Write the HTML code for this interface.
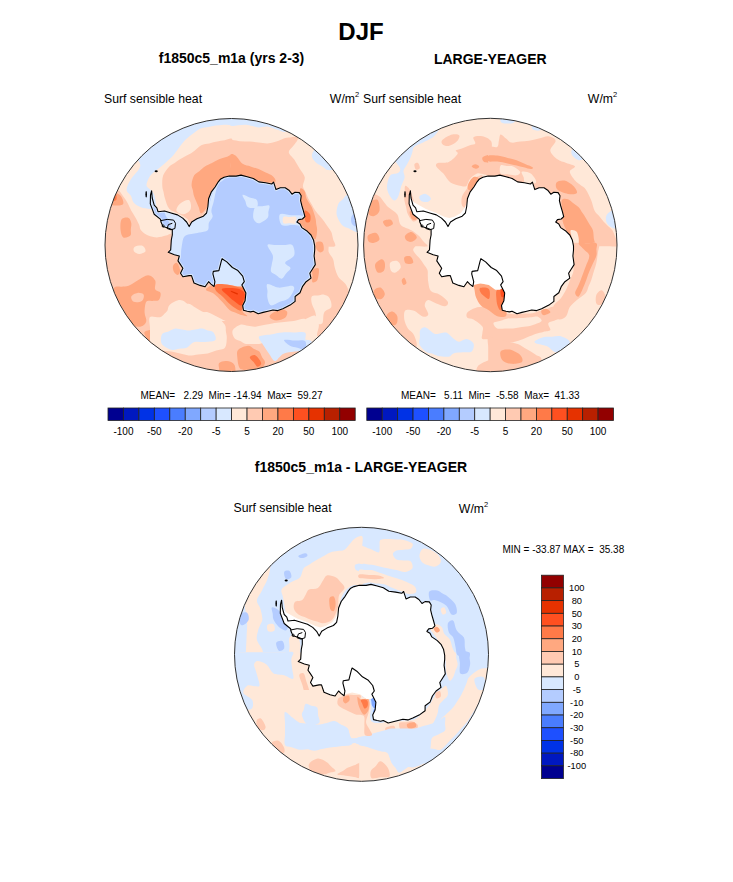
<!DOCTYPE html>
<html><head><meta charset="utf-8"><style>
html,body{margin:0;padding:0;background:#fff;}
svg{display:block;font-family:"Liberation Sans",sans-serif;}
text{fill:#000;white-space:pre;}
</style></head><body>
<svg width="733" height="882" viewBox="0 0 733 882" xml:space="preserve">
<text x="361" y="39.5" font-size="24" font-weight="bold" text-anchor="middle">DJF</text>
<text x="231.5" y="63" font-size="14" font-weight="bold" text-anchor="middle">f1850c5_m1a (yrs 2-3)</text>
<text x="490.3" y="63.5" font-size="14" font-weight="bold" text-anchor="middle">LARGE-YEAGER</text>
<text x="104" y="103" font-size="12.25">Surf sensible heat</text>
<text x="355" y="103" font-size="12.25" text-anchor="end">W/m</text><text x="355" y="97" font-size="7.5">2</text>
<text x="363" y="103" font-size="12.25">Surf sensible heat</text>
<text x="613" y="103" font-size="12.25" text-anchor="end">W/m</text><text x="613" y="97" font-size="7.5">2</text>
<clipPath id="c1"><circle cx="231.5" cy="245" r="126.5"/></clipPath>
<g clip-path="url(#c1)">
<rect x="103.0" y="116.5" width="257.0" height="257.0" fill="#FFE8D8"/>
<path d="M232.0,113.2 C230.1,111.5 224.5,113.2 220.8,113.2 C217.0,113.2 213.3,113.2 209.6,113.2 C205.8,113.2 202.1,113.2 198.3,113.2 C194.6,113.2 190.8,113.2 187.1,113.2 C183.4,113.2 179.6,113.2 175.9,113.2 C172.1,113.2 168.4,113.2 164.6,113.2 C160.9,113.2 157.2,113.2 153.4,113.2 C149.7,113.2 145.9,113.2 142.2,113.2 C138.4,113.2 134.7,113.2 131.0,113.2 C127.2,113.2 121.6,111.6 119.7,113.2 C117.9,114.8 119.7,119.5 119.7,122.7 C119.7,125.8 119.7,129.0 119.7,132.1 C119.7,135.3 118.4,138.7 119.7,141.6 C121.1,144.5 125.1,146.9 127.7,149.6 C130.4,152.2 133.7,155.2 135.7,157.6 C137.7,159.9 139.4,161.9 140.0,163.8 C140.5,165.6 140.5,166.5 139.2,168.7 C138.0,171.0 134.4,174.3 132.5,177.1 C130.6,179.8 128.7,182.9 127.7,185.2 C126.8,187.5 126.3,189.2 126.8,190.9 C127.4,192.7 129.8,193.8 130.9,195.7 C132.0,197.6 131.9,200.5 133.6,202.4 C135.2,204.4 138.1,206.1 140.8,207.2 C143.6,208.3 147.5,208.3 149.9,209.0 C152.3,209.7 154.0,210.8 155.2,211.7 C156.4,212.6 156.8,215.2 157.0,214.3 C157.1,213.4 156.4,209.0 156.1,206.3 C155.8,203.7 155.7,200.6 155.2,198.4 C154.8,196.1 154.3,194.5 153.4,193.0 C152.5,191.5 151.0,190.6 149.9,189.3 C148.7,188.0 146.7,187.2 146.5,185.2 C146.4,183.3 147.9,179.9 149.0,177.8 C150.1,175.7 151.5,174.4 153.1,172.8 C154.7,171.3 156.7,169.9 158.6,168.4 C160.4,166.9 162.4,165.4 164.1,164.0 C165.7,162.5 167.0,161.2 168.5,159.9 C170.0,158.5 171.3,157.7 172.9,155.8 C174.6,153.9 176.2,151.4 178.3,148.7 C180.3,146.0 182.7,142.5 185.4,139.8 C188.0,137.2 191.6,134.7 194.2,132.7 C196.9,130.8 199.0,129.3 201.3,128.3 C203.7,127.3 206.1,127.4 208.4,127.0 C210.8,126.5 213.0,126.0 215.5,125.6 C218.1,125.3 221.0,125.1 223.8,124.8 C226.5,124.5 230.6,125.8 232.0,123.9 C233.4,121.9 233.9,115.0 232.0,113.2Z" fill="#D8E8FF"/>
<path d="M232.0,138.9 C230.7,137.6 227.1,139.8 224.6,140.3 C222.2,140.7 219.8,141.1 217.3,141.6 C214.7,142.1 212.0,142.8 209.3,143.4 C206.6,144.0 204.1,143.7 201.3,145.2 C198.5,146.6 195.0,150.5 192.5,152.2 C189.9,154.0 188.3,154.6 186.2,155.8 C184.2,157.0 182.0,158.2 180.0,159.3 C178.1,160.5 176.5,161.7 174.7,162.9 C172.9,164.1 171.3,164.4 169.4,166.4 C167.5,168.5 164.4,172.1 163.2,175.3 C162.0,178.6 162.2,183.1 162.3,185.9 C162.4,188.8 163.2,190.1 163.6,192.2 C164.1,194.2 164.0,195.6 165.0,198.4 C165.9,201.2 167.2,206.5 169.4,209.0 C171.6,211.5 175.3,211.8 178.3,213.4 C181.2,215.1 185.1,216.8 187.1,218.8 C189.2,220.7 189.2,224.5 190.7,225.0 C192.2,225.4 194.2,222.6 196.0,221.4 C197.8,220.2 199.8,219.4 201.3,217.9 C202.8,216.4 203.7,214.3 204.9,212.6 C206.1,210.8 207.2,209.3 208.4,207.2 C209.6,205.2 210.8,202.5 212.0,200.1 C213.2,197.8 214.3,195.1 215.5,193.0 C216.7,191.0 217.9,189.5 219.1,187.7 C220.2,185.9 220.2,184.2 222.6,182.4 C225.0,180.6 231.5,179.6 233.3,177.1 C235.0,174.6 233.0,170.7 232.9,167.5 C232.8,164.4 232.7,161.2 232.6,158.0 C232.5,154.8 232.4,151.7 232.3,148.5 C232.2,145.3 233.3,140.3 232.0,138.9Z" fill="#FFCAB2"/>
<path d="M233.3,154.9 C232.1,153.6 228.5,156.4 226.2,157.1 C223.8,157.9 221.4,158.4 219.1,159.3 C216.7,160.3 214.3,161.7 212.0,162.9 C209.6,164.1 206.9,165.1 204.9,166.4 C202.8,167.8 201.3,169.4 199.6,170.9 C197.8,172.3 195.6,173.1 194.2,175.3 C192.9,177.5 191.8,181.7 191.6,184.2 C191.3,186.7 192.5,188.3 192.9,190.4 C193.3,192.5 193.3,193.8 194.2,196.6 C195.2,199.4 197.5,204.4 198.7,207.2 C199.8,210.0 199.7,213.7 201.3,213.4 C203.0,213.1 206.6,208.0 208.4,205.5 C210.2,202.9 210.8,200.7 212.0,198.4 C213.2,196.0 214.3,193.3 215.5,191.3 C216.7,189.2 217.9,187.7 219.1,185.9 C220.2,184.2 220.2,182.4 222.6,180.6 C225.0,178.9 231.5,177.9 233.3,175.3 C235.0,172.7 233.3,168.5 233.3,165.1 C233.3,161.7 234.4,156.2 233.3,154.9Z" fill="#FFA880"/>
<path d="M180.0,203.7 C182.1,201.9 187.1,199.2 188.9,200.1 C190.7,201.0 191.6,206.6 190.7,209.0 C189.8,211.4 186.0,214.0 183.6,214.3 C181.2,214.6 177.1,212.6 176.5,210.8 C175.9,209.0 178.0,205.5 180.0,203.7Z" fill="#FFE8D8"/>
<path d="M100.2,189.5 C101.7,187.6 106.1,189.7 109.1,189.8 C112.1,189.8 115.7,189.0 118.0,190.0 C120.2,191.0 121.1,193.5 122.8,195.7 C124.4,197.9 126.3,200.6 127.7,203.2 C129.1,205.7 129.9,208.3 131.3,210.8 C132.6,213.2 134.4,215.5 135.7,217.9 C137.0,220.2 138.4,222.9 139.2,225.0 C140.1,227.0 139.5,228.5 141.0,230.3 C142.5,232.1 145.5,234.4 148.1,235.6 C150.8,236.8 154.0,237.4 157.0,237.4 C159.9,237.4 163.5,236.2 165.9,235.6 C168.2,235.0 170.1,233.1 171.2,233.8 C172.2,234.6 171.8,238.0 172.1,240.0 C172.4,242.1 174.5,245.2 172.9,246.3 C171.4,247.3 166.0,246.3 162.6,246.3 C159.1,246.3 155.6,246.3 152.2,246.3 C148.7,246.3 145.2,246.3 141.8,246.3 C138.3,246.3 134.9,246.3 131.4,246.3 C127.9,246.3 124.5,246.3 121.0,246.3 C117.5,246.3 114.1,246.3 110.6,246.3 C107.2,246.3 102.0,248.1 100.2,246.3 C98.5,244.4 100.2,238.7 100.2,234.9 C100.2,231.1 100.2,227.3 100.2,223.5 C100.2,219.8 100.2,216.0 100.2,212.2 C100.2,208.4 100.2,204.6 100.2,200.8 C100.2,197.1 98.7,191.3 100.2,189.5Z" fill="#FFCAB2"/>
<path d="M121.5,219.6 C122.8,217.6 127.0,217.3 128.6,217.9 C130.2,218.5 130.9,221.3 131.3,223.2 C131.6,225.1 131.0,227.3 130.8,229.4 C130.7,231.5 131.6,234.3 130.4,235.6 C129.1,236.9 124.9,238.3 123.3,237.4 C121.7,236.5 120.9,233.2 120.6,230.3 C120.3,227.3 120.2,221.7 121.5,219.6Z" fill="#FFA880"/>
<path d="M109.1,191.3 C111.0,190.8 117.4,192.7 119.7,194.8 C122.1,196.9 123.9,201.9 123.3,203.7 C122.7,205.5 118.8,205.5 116.2,205.5 C113.5,205.5 108.7,205.0 107.3,203.7 C106.0,202.4 107.9,199.5 108.2,197.5 C108.5,195.4 107.2,191.7 109.1,191.3Z" fill="#FFA880"/>
<path d="M112.6,193.0 C113.2,192.2 115.6,193.6 116.2,194.8 C116.8,196.0 116.8,199.2 116.2,200.1 C115.6,201.0 113.2,201.3 112.6,200.1 C112.1,199.0 112.1,193.9 112.6,193.0Z" fill="#FF7A48"/>
<path d="M230.2,113.2 C232.0,112.2 237.2,113.2 240.6,113.2 C244.1,113.2 247.5,113.2 251.0,113.2 C254.5,113.2 257.9,113.2 261.4,113.2 C264.9,113.2 268.3,113.2 271.8,113.2 C275.2,113.2 278.7,113.2 282.2,113.2 C285.6,113.2 289.1,113.2 292.6,113.2 C296.0,113.2 302.2,112.2 302.9,113.2 C303.7,114.3 299.0,117.4 297.0,119.4 C295.1,121.5 293.1,123.6 291.1,125.6 C289.2,127.7 287.4,131.1 285.2,131.8 C283.0,132.6 281.1,131.0 278.1,130.1 C275.2,129.2 270.7,127.0 267.5,126.5 C264.2,126.1 261.1,127.5 258.6,127.4 C256.1,127.3 254.5,126.5 252.4,126.1 C250.3,125.6 248.6,124.9 246.2,124.8 C243.8,124.6 240.9,125.1 238.2,125.2 C235.5,125.3 231.6,126.6 230.2,125.6 C228.9,124.7 230.2,121.5 230.2,119.4 C230.2,117.4 228.5,114.3 230.2,113.2Z" fill="#D8E8FF"/>
<path d="M230.2,140.7 C231.9,138.8 236.7,141.0 240.0,141.2 C243.2,141.3 246.6,141.4 249.7,141.6 C252.8,141.8 255.6,142.2 258.6,142.5 C261.6,142.8 264.5,143.5 267.5,143.4 C270.4,143.2 273.4,142.5 276.3,141.6 C279.3,140.7 282.7,138.8 285.2,138.1 C287.7,137.3 289.3,137.5 291.4,137.2 C293.5,136.9 296.6,135.8 297.6,136.3 C298.7,136.7 298.4,138.2 297.6,139.8 C296.9,141.5 294.7,144.0 293.2,146.0 C291.7,148.1 288.6,150.0 288.8,152.2 C288.9,154.5 292.3,156.7 294.1,159.3 C295.9,162.0 297.6,165.3 299.4,168.2 C301.2,171.2 304.1,174.1 304.7,177.1 C305.3,180.0 302.8,183.4 302.9,185.9 C303.1,188.5 304.7,190.1 305.6,192.2 C306.5,194.2 307.2,196.3 308.3,198.4 C309.3,200.4 310.6,202.5 311.8,204.6 C313.0,206.6 314.0,208.9 315.4,210.8 C316.7,212.7 318.3,214.3 319.8,216.1 C321.3,217.9 322.9,219.6 324.2,221.4 C325.6,223.2 326.6,225.0 327.8,226.7 C329.0,228.5 330.4,230.0 331.3,232.1 C332.2,234.1 332.5,236.8 333.1,239.2 C333.7,241.5 336.5,245.1 334.9,246.3 C333.2,247.4 327.1,246.3 323.2,246.3 C319.4,246.3 315.5,246.3 311.6,246.3 C307.7,246.3 303.9,246.3 300.0,246.3 C296.1,246.3 292.2,246.3 288.4,246.3 C284.5,246.3 280.6,246.3 276.7,246.3 C272.9,246.3 269.0,246.3 265.1,246.3 C261.2,246.3 257.4,246.3 253.5,246.3 C249.6,246.3 245.7,246.3 241.9,246.3 C238.0,246.3 232.2,248.2 230.2,246.3 C228.3,244.3 230.2,238.4 230.2,234.5 C230.2,230.6 230.2,226.7 230.2,222.8 C230.2,218.9 230.2,215.0 230.2,211.1 C230.2,207.2 230.2,203.3 230.2,199.3 C230.2,195.4 230.2,191.5 230.2,187.6 C230.2,183.7 230.2,179.8 230.2,175.9 C230.2,172.0 230.2,168.1 230.2,164.2 C230.2,160.3 230.2,156.4 230.2,152.4 C230.2,148.5 228.6,142.6 230.2,140.7Z" fill="#FFCAB2"/>
<path d="M315.4,148.7 C313.3,151.1 311.8,153.6 311.8,155.8 C311.8,158.0 313.7,160.3 315.4,162.0 C317.0,163.7 319.5,164.7 321.6,166.0 C323.6,167.3 325.6,169.6 327.8,170.0 C330.0,170.4 334.3,170.0 334.9,168.2 C335.5,166.4 332.5,162.3 331.3,159.3 C330.1,156.4 329.0,153.4 327.8,150.5 C326.6,147.5 326.3,141.9 324.2,141.6 C322.2,141.3 317.4,146.3 315.4,148.7Z" fill="#D8E8FF"/>
<path d="M347.3,194.8 C345.2,195.7 344.3,197.8 342.9,199.2 C341.4,200.7 339.5,201.2 338.4,203.7 C337.4,206.2 336.1,210.8 336.6,214.3 C337.2,217.9 339.9,222.6 342.0,225.0 C344.0,227.3 346.7,227.3 349.1,228.5 C351.4,229.7 353.8,231.5 356.2,232.1 C358.5,232.7 362.1,233.7 363.3,232.1 C364.4,230.4 363.3,225.6 363.3,222.3 C363.3,219.1 363.3,215.8 363.3,212.6 C363.3,209.3 363.3,206.0 363.3,202.8 C363.3,199.5 364.6,194.5 363.3,193.0 C361.9,191.6 357.9,193.6 355.3,193.9 C352.6,194.2 349.4,193.9 347.3,194.8Z" fill="#D8E8FF"/>
<path d="M354.4,216.1 C354.7,214.3 357.0,212.8 357.9,214.3 C358.8,215.8 360.0,223.2 359.7,225.0 C359.4,226.7 357.0,226.4 356.2,225.0 C355.3,223.5 354.1,217.9 354.4,216.1Z" fill="#B4CCFF"/>
<path d="M230.2,154.9 C231.1,153.2 233.5,154.0 235.5,155.4 C237.6,156.9 240.1,161.9 242.6,163.8 C245.2,165.6 248.0,165.5 250.6,166.4 C253.3,167.3 256.1,168.1 258.6,169.1 C261.1,170.1 263.3,171.5 265.7,172.6 C268.1,173.8 271.2,174.7 272.8,176.2 C274.4,177.7 276.3,180.5 275.5,181.5 C274.6,182.5 270.3,182.5 267.5,182.4 C264.7,182.3 261.6,181.2 258.6,180.6 C255.6,180.0 252.2,179.4 249.7,178.9 C247.2,178.3 245.6,177.7 243.5,177.1 C241.5,176.5 239.5,175.5 237.3,175.3 C235.1,175.2 231.4,177.8 230.2,176.2 C229.0,174.6 230.2,169.1 230.2,165.5 C230.2,162.0 229.3,156.6 230.2,154.9Z" fill="#FFA880"/>
<path d="M300.3,188.6 C301.1,187.2 303.7,189.6 304.7,191.3 C305.8,192.9 305.3,195.7 306.5,198.4 C307.7,201.0 310.3,204.0 311.8,207.2 C313.3,210.5 314.6,215.1 315.4,217.9 C316.1,220.7 316.0,222.0 316.2,224.1 C316.5,226.2 317.3,227.8 317.1,230.3 C317.0,232.8 316.4,238.4 315.4,239.2 C314.3,239.9 312.4,236.2 310.9,234.7 C309.5,233.2 308.4,232.5 306.5,230.3 C304.6,228.1 300.5,224.7 299.4,221.4 C298.3,218.1 299.6,214.1 299.7,210.5 C299.8,206.8 299.9,203.2 300.0,199.5 C300.1,195.9 299.5,190.0 300.3,188.6Z" fill="#FFA880"/>
<path d="M304.7,210.8 C305.5,209.6 309.2,212.6 310.0,214.3 C310.9,216.1 310.8,220.2 310.0,221.4 C309.3,222.6 306.5,223.2 305.6,221.4 C304.7,219.6 304.0,212.0 304.7,210.8Z" fill="#FF7A48"/>
<path d="M100.2,243.2 C102.1,241.4 107.6,243.2 111.3,243.2 C115.0,243.2 118.7,243.2 122.4,243.2 C126.1,243.2 129.8,243.2 133.5,243.2 C137.2,243.2 140.9,243.2 144.6,243.2 C148.3,243.2 152.0,243.2 155.7,243.2 C159.3,243.2 163.0,243.2 166.7,243.2 C170.4,243.2 174.1,243.2 177.8,243.2 C181.5,243.2 185.2,243.2 188.9,243.2 C192.6,243.2 196.3,243.2 200.0,243.2 C203.7,243.2 207.4,243.2 211.1,243.2 C214.8,243.2 218.5,243.2 222.2,243.2 C225.9,243.2 231.4,241.4 233.3,243.2 C235.1,245.1 233.3,250.6 233.3,254.3 C233.3,258.0 233.3,261.7 233.3,265.4 C233.3,269.1 233.3,272.8 233.3,276.5 C233.3,280.2 233.3,283.9 233.3,287.6 C233.3,291.3 233.3,295.0 233.3,298.7 C233.3,302.3 233.3,306.0 233.3,309.7 C233.3,313.4 233.3,317.1 233.3,320.8 C233.3,324.5 233.3,328.2 233.3,331.9 C233.3,335.6 233.3,339.3 233.3,343.0 C233.3,346.7 233.3,350.4 233.3,354.1 C233.3,357.8 233.3,361.5 233.3,365.2 C233.3,368.9 235.1,374.4 233.3,376.3 C231.4,378.1 225.9,376.3 222.2,376.3 C218.5,376.3 214.8,376.3 211.1,376.3 C207.4,376.3 203.7,376.3 200.0,376.3 C196.3,376.3 192.6,376.3 188.9,376.3 C185.2,376.3 181.5,376.3 177.8,376.3 C174.1,376.3 170.4,376.3 166.7,376.3 C163.0,376.3 159.3,376.3 155.7,376.3 C152.0,376.3 148.3,376.3 144.6,376.3 C140.9,376.3 137.2,376.3 133.5,376.3 C129.8,376.3 126.1,376.3 122.4,376.3 C118.7,376.3 115.0,376.3 111.3,376.3 C107.6,376.3 102.1,378.1 100.2,376.3 C98.4,374.4 100.2,368.9 100.2,365.2 C100.2,361.5 100.2,357.8 100.2,354.1 C100.2,350.4 100.2,346.7 100.2,343.0 C100.2,339.3 100.2,335.6 100.2,331.9 C100.2,328.2 100.2,324.5 100.2,320.8 C100.2,317.1 100.2,313.4 100.2,309.7 C100.2,306.0 100.2,302.3 100.2,298.7 C100.2,295.0 100.2,291.3 100.2,287.6 C100.2,283.9 100.2,280.2 100.2,276.5 C100.2,272.8 100.2,269.1 100.2,265.4 C100.2,261.7 100.2,258.0 100.2,254.3 C100.2,250.6 98.4,245.1 100.2,243.2Z" fill="#FFCAB2"/>
<path d="M134.8,246.8 C136.3,245.9 141.0,245.1 142.8,245.9 C144.6,246.6 146.0,249.9 145.5,251.2 C144.9,252.5 141.2,253.9 139.2,253.9 C137.3,253.9 134.7,252.4 133.9,251.2 C133.2,250.0 133.3,247.7 134.8,246.8Z" fill="#FFE8D8"/>
<path d="M114.4,287.6 C115.9,285.6 119.1,287.0 121.5,286.7 C123.9,286.4 125.9,286.8 128.6,285.8 C131.3,284.8 134.2,282.2 137.5,280.5 C140.7,278.7 145.2,275.2 148.1,275.2 C151.1,275.2 154.0,278.1 155.2,280.5 C156.4,282.8 154.3,287.3 155.2,289.3 C156.1,291.4 159.9,291.1 160.5,292.9 C161.1,294.7 160.1,298.7 158.8,300.0 C157.4,301.3 154.6,300.6 152.5,300.9 C150.5,301.2 147.7,299.8 146.3,301.8 C145.0,303.7 144.6,309.1 144.6,312.4 C144.6,315.7 146.9,318.9 146.3,321.3 C145.8,323.6 143.7,326.0 141.0,326.6 C138.4,327.2 132.7,326.4 130.4,324.8 C128.0,323.2 128.0,319.5 126.8,316.8 C125.6,314.2 124.8,311.1 123.3,308.9 C121.8,306.6 119.7,305.3 118.0,303.5 C116.2,301.8 113.2,300.9 112.6,298.2 C112.1,295.5 112.9,289.5 114.4,287.6Z" fill="#FFA880"/>
<path d="M131.3,296.4 C131.9,295.0 135.4,293.2 137.5,292.9 C139.5,292.6 142.9,293.3 143.7,294.7 C144.4,296.0 143.5,299.7 141.9,300.9 C140.3,302.1 135.7,302.5 133.9,301.8 C132.2,301.0 130.7,297.9 131.3,296.4Z" fill="#FFCAB2"/>
<path d="M144.6,331.9 C145.8,330.6 151.8,329.2 153.4,330.1 C155.1,331.0 154.0,334.9 154.3,337.2 C154.6,339.6 156.2,343.1 155.2,344.3 C154.2,345.5 149.6,345.4 148.1,344.3 C146.6,343.3 146.9,340.2 146.3,338.1 C145.8,336.0 143.4,333.2 144.6,331.9Z" fill="#FFA880"/>
<path d="M155.2,321.3 C157.3,319.2 163.5,318.6 165.9,315.9 C168.2,313.3 167.0,308.0 169.4,305.3 C171.8,302.6 176.8,300.0 180.0,300.0 C183.3,300.0 186.5,303.2 188.9,305.3 C191.3,307.4 192.2,311.2 194.2,312.4 C196.3,313.6 199.0,312.4 201.3,312.4 C203.7,312.4 205.5,311.5 208.4,312.4 C211.4,313.3 216.1,316.2 219.1,317.7 C222.0,319.2 223.8,320.1 226.2,321.3 C228.5,322.5 232.1,322.4 233.3,324.8 C234.4,327.3 233.3,332.2 233.3,335.9 C233.3,339.6 234.6,344.8 233.3,347.0 C231.9,349.2 227.9,348.5 225.3,349.2 C222.6,349.9 219.9,350.9 217.3,351.4 C214.6,351.9 212.0,352.0 209.3,352.3 C206.6,352.6 203.8,353.2 201.3,353.2 C198.8,353.2 196.6,352.6 194.2,352.3 C191.9,352.0 189.5,351.3 187.1,351.4 C184.8,351.6 182.4,352.6 180.0,353.2 C177.7,353.8 175.3,355.1 172.9,355.0 C170.6,354.8 168.2,353.2 165.9,352.3 C163.5,351.4 160.2,351.1 158.8,349.6 C157.3,348.2 157.6,345.5 157.0,343.4 C156.4,341.4 155.8,339.7 155.2,337.2 C154.6,334.7 153.4,331.0 153.4,328.4 C153.4,325.7 153.1,323.3 155.2,321.3Z" fill="#FFE8D8"/>
<path d="M162.3,335.5 C163.8,332.8 170.1,331.2 172.9,330.1 C175.8,329.1 177.1,329.5 179.2,329.2 C181.2,329.0 182.6,328.2 185.4,328.4 C188.2,328.5 193.2,330.0 196.0,330.1 C198.8,330.3 200.1,329.5 202.2,329.2 C204.3,329.0 206.2,327.6 208.4,328.4 C210.6,329.1 214.6,331.3 215.5,333.7 C216.4,336.0 215.1,341.1 213.7,342.6 C212.4,344.0 209.6,342.6 207.5,342.6 C205.5,342.6 204.1,342.8 201.3,342.6 C198.5,342.3 193.3,339.9 190.7,340.8 C188.0,341.7 187.3,346.5 185.4,347.9 C183.4,349.2 181.2,348.5 179.2,348.8 C177.1,349.1 175.5,350.1 172.9,349.6 C170.4,349.2 165.9,348.5 164.1,346.1 C162.3,343.7 160.8,338.1 162.3,335.5Z" fill="#D8E8FF"/>
<path d="M217.3,362.1 C218.3,360.0 222.6,360.9 225.3,360.3 C227.9,359.7 231.9,357.6 233.3,358.5 C234.6,359.4 233.3,363.2 233.3,365.6 C233.3,368.0 234.4,371.5 233.3,372.7 C232.1,373.9 228.5,372.7 226.2,372.7 C223.8,372.7 220.5,374.5 219.1,372.7 C217.6,370.9 216.3,364.1 217.3,362.1Z" fill="#FFA880"/>
<path d="M230.2,243.2 C232.0,241.5 237.5,243.2 241.1,243.2 C244.7,243.2 248.3,243.2 251.9,243.2 C255.5,243.2 259.1,243.2 262.7,243.2 C266.4,243.2 270.0,243.2 273.6,243.2 C277.2,243.2 280.8,243.2 284.4,243.2 C288.0,243.2 291.6,243.2 295.3,243.2 C298.9,243.2 302.5,243.2 306.1,243.2 C309.7,243.2 313.3,243.2 316.9,243.2 C320.6,243.2 325.8,241.7 327.8,243.2 C329.7,244.7 327.8,249.4 328.7,252.1 C329.6,254.8 332.1,256.5 333.1,259.2 C334.1,261.8 334.0,265.1 334.9,268.1 C335.8,271.0 336.6,274.3 338.4,276.9 C340.2,279.6 343.7,281.4 345.5,284.0 C347.3,286.7 348.5,289.6 349.1,292.9 C349.7,296.1 349.7,300.3 349.1,303.5 C348.5,306.8 347.3,309.7 345.5,312.4 C343.7,315.1 340.8,317.1 338.4,319.5 C336.1,321.9 333.2,324.5 331.3,326.6 C329.4,328.7 328.4,330.1 326.9,331.9 C325.4,333.7 324.1,336.6 322.5,337.2 C320.8,337.8 317.7,337.5 317.1,335.5 C316.5,333.4 319.2,328.1 318.9,324.8 C318.6,321.6 317.1,317.1 315.4,315.9 C313.6,314.8 311.2,316.5 308.3,317.7 C305.3,318.9 300.4,322.0 297.6,323.0 C294.8,324.1 293.5,323.6 291.4,323.9 C289.3,324.2 287.4,324.4 285.2,324.8 C283.0,325.3 280.5,326.0 278.1,326.6 C275.8,327.2 273.4,328.3 271.0,328.4 C268.7,328.4 266.3,327.5 263.9,327.0 C261.6,326.6 259.2,325.9 256.8,325.7 C254.5,325.6 252.1,326.0 249.7,326.1 C247.4,326.3 244.9,326.4 242.6,326.6 C240.4,326.8 238.5,327.2 236.4,327.5 C234.4,327.8 231.3,330.0 230.2,328.4 C229.2,326.7 230.2,321.3 230.2,317.7 C230.2,314.2 230.2,310.6 230.2,307.1 C230.2,303.5 230.2,300.0 230.2,296.4 C230.2,292.9 230.2,289.3 230.2,285.8 C230.2,282.2 230.2,278.7 230.2,275.2 C230.2,271.6 230.2,268.1 230.2,264.5 C230.2,261.0 230.2,257.4 230.2,253.9 C230.2,250.3 228.4,245.0 230.2,243.2Z" fill="#FFCAB2"/>
<path d="M311.8,296.4 C312.9,295.1 316.0,295.8 318.0,295.5 C320.1,295.3 322.3,294.2 324.2,294.7 C326.2,295.1 328.4,296.1 329.6,298.2 C330.7,300.3 332.2,304.7 331.3,307.1 C330.4,309.4 325.7,309.7 324.2,312.4 C322.8,315.1 323.6,321.3 322.5,323.0 C321.3,324.8 318.3,324.8 317.1,323.0 C316.0,321.3 316.2,315.7 315.4,312.4 C314.5,309.1 312.4,306.2 311.8,303.5 C311.2,300.9 310.8,297.8 311.8,296.4Z" fill="#FFE8D8"/>
<path d="M230.2,340.8 C231.7,339.4 236.4,343.6 239.1,344.3 C241.8,345.1 243.8,344.9 246.2,345.2 C248.6,345.5 250.3,345.1 253.3,346.1 C256.2,347.1 261.6,349.6 263.9,351.4 C266.3,353.2 266.3,355.0 267.5,356.7 C268.7,358.5 269.5,361.8 271.0,362.1 C272.5,362.4 274.6,359.7 276.3,358.5 C278.1,357.3 279.6,356.2 281.7,355.0 C283.7,353.8 286.7,351.1 288.8,351.4 C290.8,351.7 294.2,354.2 294.1,356.7 C293.9,359.3 289.9,363.2 287.9,366.5 C285.8,369.7 284.4,374.6 281.7,376.3 C278.9,377.9 274.8,376.3 271.4,376.3 C267.9,376.3 264.5,376.3 261.1,376.3 C257.7,376.3 254.2,376.3 250.8,376.3 C247.4,376.3 243.9,376.3 240.5,376.3 C237.1,376.3 231.9,378.2 230.2,376.3 C228.5,374.3 230.2,368.4 230.2,364.4 C230.2,360.5 230.2,356.5 230.2,352.6 C230.2,348.7 228.7,342.2 230.2,340.8Z" fill="#FFCAB2"/>
<path d="M237.3,347.9 C238.7,346.2 242.6,348.5 245.3,348.8 C248.0,349.1 251.1,348.9 253.3,349.6 C255.5,350.4 256.8,352.0 258.6,353.2 C260.4,354.4 262.7,355.1 263.9,356.7 C265.1,358.4 265.1,360.9 265.7,362.9 C266.3,365.0 268.7,367.8 267.5,369.2 C266.3,370.5 261.6,370.3 258.6,370.9 C255.6,371.5 252.2,372.7 249.7,372.7 C247.2,372.7 245.6,371.5 243.5,370.9 C241.5,370.3 238.4,371.2 237.3,369.2 C236.3,367.1 237.3,362.1 237.3,358.5 C237.3,355.0 236.0,349.5 237.3,347.9Z" fill="#FFA880"/>
<path d="M249.7,358.5 C250.6,357.0 254.9,355.9 256.8,356.7 C258.8,357.6 261.0,362.1 261.3,363.8 C261.6,365.6 260.2,367.1 258.6,367.4 C257.0,367.7 253.0,367.1 251.5,365.6 C250.0,364.1 248.8,360.0 249.7,358.5Z" fill="#FF7A48"/>
<path d="M260.4,337.2 C260.5,335.9 264.5,336.6 266.6,336.3 C268.7,336.0 270.7,335.8 272.8,335.5 C274.9,335.2 276.9,334.9 279.0,334.6 C281.1,334.3 283.0,333.5 285.2,333.7 C287.4,333.8 289.9,334.9 292.3,335.5 C294.7,336.0 297.2,336.6 299.4,337.2 C301.6,337.9 303.5,338.7 305.6,339.4 C307.7,340.2 311.7,339.7 311.8,341.7 C312.0,343.7 308.4,349.6 306.5,351.4 C304.6,353.2 302.4,352.0 300.3,352.3 C298.2,352.6 296.9,352.2 294.1,353.2 C291.3,354.2 287.0,357.0 283.4,358.5 C279.9,360.0 275.5,362.7 272.8,362.1 C270.1,361.5 268.7,357.9 267.5,355.0 C266.3,352.0 266.9,347.3 265.7,344.3 C264.5,341.4 260.2,338.6 260.4,337.2Z" fill="#D8E8FF"/>
<path d="M283.4,340.8 C285.2,339.7 291.3,339.5 294.1,339.9 C296.9,340.3 298.2,342.0 300.3,343.0 C302.4,344.0 306.1,344.7 306.5,346.1 C306.9,347.5 304.6,350.7 302.9,351.4 C301.3,352.2 298.8,350.8 296.7,350.5 C294.7,350.2 292.7,350.4 290.5,349.6 C288.3,348.9 284.6,347.6 283.4,346.1 C282.3,344.6 281.7,341.8 283.4,340.8Z" fill="#B4CCFF"/>
<path d="M271.0,314.2 C272.6,312.8 277.2,310.2 279.9,309.7 C282.5,309.3 286.1,310.2 287.0,311.5 C287.9,312.8 287.0,316.2 285.2,317.7 C283.4,319.2 278.9,320.4 276.3,320.4 C273.8,320.4 271.0,318.8 270.1,317.7 C269.2,316.7 269.4,315.5 271.0,314.2Z" fill="#FFA880"/>
<path d="M212.0,262.0 C213.5,259.6 218.7,256.3 221.0,256.0 C223.3,255.7 224.0,258.3 226.0,260.0 C228.0,261.7 230.8,264.3 233.0,266.0 C235.2,267.7 237.2,268.3 239.0,270.0 C240.8,271.7 243.1,274.0 244.0,276.0 C244.9,278.0 244.3,280.0 244.5,282.0 C244.7,284.0 246.2,287.3 245.0,288.0 C243.8,288.7 240.0,287.0 237.5,286.4 C235.0,285.9 232.8,285.0 230.0,284.9 C227.2,284.8 224.0,285.6 221.0,285.9 C218.0,286.3 213.5,288.2 212.0,287.0 C210.5,285.8 212.0,281.4 212.0,278.7 C212.0,275.9 212.0,273.1 212.0,270.3 C212.0,267.6 210.5,264.4 212.0,262.0Z" fill="#D8E8FF"/>
<path d="M210.0,286.0 C211.4,285.2 212.5,285.5 214.7,285.5 C216.8,285.5 220.2,285.7 222.9,285.8 C225.6,285.9 228.4,285.9 231.1,286.0 C233.8,286.1 237.1,286.1 239.3,286.3 C241.5,286.5 242.9,285.8 244.1,287.1 C245.3,288.5 246.5,292.0 246.5,294.4 C246.5,296.8 244.8,298.8 244.1,301.6 C243.4,304.4 242.0,308.6 242.5,311.0 C243.0,313.4 247.4,315.2 247.3,315.9 C247.2,316.6 243.6,315.6 241.7,315.1 C239.8,314.6 237.7,313.5 235.8,312.7 C233.8,311.9 232.1,312.2 229.8,310.3 C227.5,308.4 224.6,304.4 221.9,301.6 C219.2,298.8 216.6,295.6 213.9,293.7 C211.2,291.8 206.7,291.3 206.0,290.0 C205.3,288.7 208.6,286.8 210.0,286.0Z" fill="#FFA880"/>
<path d="M214.7,286.5 C215.0,285.3 215.4,284.4 217.9,284.1 C220.4,283.8 226.2,284.4 229.8,284.9 C233.4,285.4 236.9,286.8 239.3,287.3 C241.7,287.8 242.9,286.9 244.1,288.1 C245.3,289.3 246.5,292.1 246.5,294.4 C246.5,296.6 244.9,299.0 244.1,301.6 C243.3,304.2 243.0,309.1 241.7,310.3 C240.4,311.5 238.2,309.8 236.2,308.7 C234.2,307.6 232.2,306.1 229.8,304.0 C227.4,301.9 224.2,298.1 221.9,296.0 C219.7,293.9 217.5,292.9 216.3,291.3 C215.1,289.7 214.4,287.7 214.7,286.5Z" fill="#FF7A48"/>
<path d="M221.9,288.9 C222.8,287.8 229.0,288.0 232.2,288.1 C235.4,288.2 238.8,288.6 240.9,289.7 C243.0,290.8 244.5,292.5 244.9,294.4 C245.3,296.2 244.0,298.9 243.3,300.8 C242.6,302.7 242.5,305.6 240.9,305.6 C239.3,305.6 236.2,302.7 233.8,300.8 C231.4,298.9 228.6,296.4 226.6,294.4 C224.6,292.4 221.0,289.9 221.9,288.9Z" fill="#FF5020"/>
<path d="M231.4,290.9 C232.4,291.1 236.8,292.7 237.7,293.3 C238.6,293.9 238.1,294.6 237.0,294.4 C235.9,294.2 232.3,292.7 231.4,292.1 C230.5,291.5 230.4,290.7 231.4,290.9Z" fill="#E63200"/>
<path d="M173.0,266.0 C173.5,264.5 175.8,262.3 177.0,263.0 C178.2,263.7 179.8,268.0 180.0,270.0 C180.2,272.0 179.0,274.7 178.0,275.0 C177.0,275.3 174.8,273.5 174.0,272.0 C173.2,270.5 172.5,267.5 173.0,266.0Z" fill="#FFA880"/>
<path d="M316.2,242.4 C317.2,241.4 321.1,241.2 322.4,242.4 C323.6,243.7 324.1,248.2 323.7,249.9 C323.3,251.6 321.1,252.6 319.9,252.4 C318.6,252.2 316.8,250.3 316.2,248.6 C315.6,246.9 315.2,243.4 316.2,242.4Z" fill="#FFA880"/>
<path d="M312.5,269.9 C313.5,268.6 317.9,267.0 318.7,268.6 C319.5,270.2 318.5,277.5 317.5,279.8 C316.5,282.1 313.3,282.9 312.5,282.3 C311.7,281.7 312.5,278.2 312.5,276.1 C312.5,274.0 311.5,271.1 312.5,269.9Z" fill="#FFA880"/>
<path d="M351.1,218.0 C351.4,216.3 352.9,213.7 354.0,214.0 C355.1,214.3 357.6,218.0 358.0,220.0 C358.4,222.0 357.1,225.5 356.1,226.2 C355.1,226.9 352.8,225.4 352.0,224.0 C351.2,222.6 350.8,219.7 351.1,218.0Z" fill="#B4CCFF"/>
<path d="M150.0,321.0 L300.0,321.0 L300.0,380.0 L150.0,380.0Z" fill="#FFCAB2"/>
<path d="M160.0,317.2 C162.6,316.4 163.8,314.0 165.8,312.4 C167.7,310.8 169.1,308.7 171.5,307.6 C173.9,306.5 177.2,306.3 180.1,305.7 C182.9,305.1 186.1,303.5 188.6,303.8 C191.1,304.1 193.1,306.4 195.3,307.6 C197.5,308.9 199.6,310.4 202.0,311.5 C204.4,312.6 207.1,313.4 209.7,314.4 C212.2,315.3 214.8,315.5 217.3,317.2 C219.8,318.9 223.5,322.4 224.9,324.8 C226.3,327.2 225.5,329.3 225.9,331.5 C226.2,333.7 227.0,335.5 226.8,338.2 C226.6,340.9 226.7,345.6 224.9,347.7 C223.2,349.8 219.2,349.6 216.3,350.6 C213.4,351.6 210.7,352.9 207.7,353.5 C204.7,354.1 201.3,354.1 198.1,354.4 C195.0,354.8 191.6,355.6 188.6,355.4 C185.6,355.2 182.9,354.1 180.1,353.5 C177.2,352.9 174.7,352.1 171.5,351.6 C168.3,351.1 164.3,351.0 160.8,350.6 C157.2,350.3 151.8,351.7 150.0,349.7 C148.2,347.7 150.0,342.4 150.0,338.8 C150.0,335.2 150.0,331.5 150.0,327.9 C150.0,324.3 148.3,318.8 150.0,317.0 C151.7,315.2 157.4,318.0 160.0,317.2Z" fill="#FFE8D8"/>
<path d="M161.9,334.4 C163.0,332.3 166.4,332.5 168.6,331.5 C170.8,330.5 173.1,328.9 175.3,328.6 C177.5,328.3 179.7,329.3 181.9,329.6 C184.2,329.9 186.4,330.6 188.6,330.6 C190.8,330.6 193.1,329.9 195.3,329.6 C197.5,329.3 199.9,328.4 202.0,328.6 C204.1,328.8 205.8,329.9 207.8,330.6 C209.7,331.2 212.2,330.9 213.5,332.5 C214.8,334.1 216.7,338.5 215.4,340.1 C214.1,341.7 209.3,341.7 205.8,342.0 C202.3,342.3 197.6,341.1 194.4,342.0 C191.2,342.9 189.2,346.6 186.7,347.7 C184.1,348.8 181.6,348.4 179.1,348.7 C176.6,349.0 174.4,350.5 171.5,349.7 C168.6,348.9 163.5,346.4 161.9,343.9 C160.3,341.3 160.8,336.5 161.9,334.4Z" fill="#D8E8FF"/>
<path d="M232.6,330.6 C233.5,328.4 237.7,325.6 240.2,324.8 C242.7,324.0 245.3,325.4 247.8,325.8 C250.4,326.1 252.6,326.9 255.5,326.7 C258.4,326.5 261.9,325.4 265.1,324.8 C268.2,324.2 271.4,323.4 274.6,322.9 C277.8,322.4 281.0,322.3 284.1,321.9 C287.3,321.6 290.2,321.5 293.7,321.0 C297.2,320.5 303.1,317.8 305.0,319.1 C306.9,320.4 305.0,325.5 305.0,328.6 C305.0,331.8 306.7,336.6 305.0,338.2 C303.3,339.8 298.2,338.2 294.9,338.2 C291.5,338.2 288.1,338.2 284.7,338.2 C281.4,338.2 277.6,337.7 274.6,338.2 C271.6,338.7 269.5,340.1 267.0,341.0 C264.4,342.0 261.7,343.4 259.3,343.9 C256.9,344.4 254.8,343.9 252.6,343.9 C250.4,343.9 248.0,344.4 245.9,343.9 C243.8,343.4 242.1,342.0 240.2,341.0 C238.3,340.1 235.8,339.9 234.5,338.2 C233.2,336.5 231.7,332.8 232.6,330.6Z" fill="#FFE8D8"/>
<path d="M259.3,336.3 C260.9,335.0 266.9,335.0 270.8,334.4 C274.6,333.8 278.4,332.8 282.2,332.5 C286.0,332.2 289.8,332.5 293.6,332.5 C297.4,332.5 303.1,331.1 305.0,332.5 C306.9,333.9 305.0,338.2 305.0,341.1 C305.0,344.0 306.7,347.9 305.0,349.7 C303.3,351.4 298.0,351.0 294.6,351.6 C291.1,352.2 286.6,352.6 284.1,353.5 C281.6,354.4 280.9,356.0 279.4,357.3 C277.8,358.6 276.3,361.7 274.6,361.1 C272.9,360.5 270.5,355.7 268.9,353.5 C267.3,351.3 266.3,349.7 265.0,347.8 C263.8,345.8 262.2,343.9 261.2,342.0 C260.2,340.1 257.7,337.6 259.3,336.3Z" fill="#D8E8FF"/>
<path d="M284.1,340.1 C284.9,339.2 291.1,340.4 294.6,340.6 C298.0,340.8 303.3,339.6 305.0,341.1 C306.7,342.6 306.3,348.6 305.0,349.7 C303.7,350.8 300.0,348.4 297.4,347.8 C294.9,347.1 292.1,347.1 289.9,345.8 C287.7,344.5 283.3,341.0 284.1,340.1Z" fill="#B4CCFF"/>
<path d="M238.3,349.7 C240.1,347.8 245.3,346.0 247.9,345.8 C250.5,345.6 251.7,347.7 253.6,348.7 C255.5,349.7 257.9,350.2 259.3,351.6 C260.7,353.0 261.2,355.4 262.1,357.3 C263.1,359.2 265.5,360.8 265.0,363.0 C264.5,365.2 261.8,369.6 259.3,370.7 C256.8,371.8 252.9,370.1 249.8,369.8 C246.6,369.4 242.3,370.9 240.2,368.8 C238.1,366.7 237.6,360.5 237.3,357.3 C237.0,354.1 236.5,351.6 238.3,349.7Z" fill="#FFA880"/>
<path d="M249.8,357.3 C250.1,356.2 253.6,354.4 255.5,355.4 C257.4,356.3 260.9,361.1 261.2,363.0 C261.5,364.9 258.7,367.0 257.4,366.8 C256.1,366.6 254.9,363.6 253.6,362.1 C252.3,360.5 249.5,358.4 249.8,357.3Z" fill="#FF7A48"/>
<path d="M219.2,363.0 C220.5,361.6 224.2,360.8 226.8,361.1 C229.4,361.4 233.2,362.4 234.5,364.9 C235.8,367.4 235.8,374.1 234.5,376.0 C233.2,377.9 229.4,376.0 226.8,376.0 C224.3,376.0 220.5,377.1 219.2,376.0 C217.9,374.9 219.2,371.7 219.2,369.5 C219.2,367.3 217.9,364.4 219.2,363.0Z" fill="#FFA880"/>
<path d="M151.6,190.9 L152.2,198.0 L154.2,205.2 L156.8,207.8 L158.0,211.7 L164.5,211.0 L171.0,213.0 L177.5,214.9 L182.7,218.1 L186.6,222.0 L189.2,226.6 L191.7,222.0 L196.9,218.8 L203.4,216.2 L206.6,213.0 L207.9,206.5 L208.6,198.7 L211.2,192.2 L215.1,187.0 L218.3,181.8 L220.3,179.3 L224.1,177.3 L229.3,176.0 L236.1,176.1 L241.0,175.1 L247.2,176.7 L253.3,178.5 L258.8,181.9 L265.6,182.8 L271.7,184.0 L273.6,182.2 L274.8,185.9 L276.0,189.6 L280.3,187.7 L285.2,187.7 L288.9,190.2 L292.0,194.2 L295.0,192.3 L299.3,192.6 L301.2,195.7 L300.6,200.6 L301.8,205.5 L303.6,211.7 L304.9,216.6 L302.4,219.0 L298.7,219.6 L296.9,222.1 L300.0,223.9 L301.8,227.6 L307.3,231.3 L311.0,235.0 L313.5,239.9 L314.7,246.0 L314.7,250.0 L314.1,256.0 L315.3,264.6 L312.2,269.5 L309.8,273.2 L311.0,278.1 L306.1,281.7 L302.4,286.7 L300.0,292.8 L295.1,296.5 L295.1,301.4 L290.1,305.1 L282.8,308.8 L277.9,310.6 L272.9,310.0 L268.0,311.2 L263.1,312.4 L258.2,313.7 L253.3,311.2 L250.6,311.9 L247.2,311.2 L243.5,310.3 L242.7,305.6 L245.1,300.8 L245.9,292.9 L241.9,284.9 L244.3,281.7 L242.7,276.2 L237.9,270.6 L232.4,267.5 L226.8,261.9 L222.1,258.7 L221.3,261.1 L218.9,270.6 L213.3,271.4 L212.9,273.8 L214.9,281.7 L214.1,286.5 L211.0,284.1 L208.6,281.7 L205.1,286.7 L200.1,285.4 L194.0,283.0 L191.5,275.6 L189.1,275.6 L182.9,276.8 L180.5,273.2 L182.9,268.2 L180.5,264.6 L178.0,260.9 L179.3,256.0 L174.4,254.7 L168.2,252.3 L170.7,249.8 L171.3,240.0 L172.3,235.0 L172.3,229.8 L168.0,228.0 L163.0,226.5 L161.0,222.0 L160.6,219.4 L154.2,214.2 L150.3,203.9 L150.5,195.0Z" fill="#B4CCFF"/>
<clipPath id="c1f"><path d="M151.6,190.9 L152.2,198.0 L154.2,205.2 L156.8,207.8 L158.0,211.7 L164.5,211.0 L171.0,213.0 L177.5,214.9 L182.7,218.1 L186.6,222.0 L189.2,226.6 L191.7,222.0 L196.9,218.8 L203.4,216.2 L206.6,213.0 L207.9,206.5 L208.6,198.7 L211.2,192.2 L215.1,187.0 L218.3,181.8 L220.3,179.3 L224.1,177.3 L229.3,176.0 L236.1,176.1 L241.0,175.1 L247.2,176.7 L253.3,178.5 L258.8,181.9 L265.6,182.8 L271.7,184.0 L273.6,182.2 L274.8,185.9 L276.0,189.6 L280.3,187.7 L285.2,187.7 L288.9,190.2 L292.0,194.2 L295.0,192.3 L299.3,192.6 L301.2,195.7 L300.6,200.6 L301.8,205.5 L303.6,211.7 L304.9,216.6 L302.4,219.0 L298.7,219.6 L296.9,222.1 L300.0,223.9 L301.8,227.6 L307.3,231.3 L311.0,235.0 L313.5,239.9 L314.7,246.0 L314.7,250.0 L314.1,256.0 L315.3,264.6 L312.2,269.5 L309.8,273.2 L311.0,278.1 L306.1,281.7 L302.4,286.7 L300.0,292.8 L295.1,296.5 L295.1,301.4 L290.1,305.1 L282.8,308.8 L277.9,310.6 L272.9,310.0 L268.0,311.2 L263.1,312.4 L258.2,313.7 L253.3,311.2 L250.6,311.9 L247.2,311.2 L243.5,310.3 L242.7,305.6 L245.1,300.8 L245.9,292.9 L241.9,284.9 L244.3,281.7 L242.7,276.2 L237.9,270.6 L232.4,267.5 L226.8,261.9 L222.1,258.7 L221.3,261.1 L218.9,270.6 L213.3,271.4 L212.9,273.8 L214.9,281.7 L214.1,286.5 L211.0,284.1 L208.6,281.7 L205.1,286.7 L200.1,285.4 L194.0,283.0 L191.5,275.6 L189.1,275.6 L182.9,276.8 L180.5,273.2 L182.9,268.2 L180.5,264.6 L178.0,260.9 L179.3,256.0 L174.4,254.7 L168.2,252.3 L170.7,249.8 L171.3,240.0 L172.3,235.0 L172.3,229.8 L168.0,228.0 L163.0,226.5 L161.0,222.0 L160.6,219.4 L154.2,214.2 L150.3,203.9 L150.5,195.0Z"/></clipPath>
<g clip-path="url(#c1f)">
<path d="M165.0,212.0 C166.1,210.6 172.2,211.8 175.0,212.6 C177.8,213.4 179.8,215.2 181.8,217.0 C183.8,218.8 185.8,221.6 187.1,223.2 C188.4,224.8 188.6,227.0 189.8,226.7 C191.0,226.4 192.0,223.5 194.2,221.4 C196.4,219.3 200.7,216.7 203.1,214.3 C205.5,211.9 207.2,209.4 208.4,207.2 C209.6,205.0 209.6,203.1 210.2,201.0 C210.8,198.9 211.3,196.9 212.0,194.8 C212.7,192.7 213.8,190.7 214.7,188.6 C215.5,186.5 215.7,184.3 217.3,182.4 C218.9,180.5 223.3,177.5 224.4,177.1 C225.5,176.7 224.6,178.7 223.7,179.8 C222.8,180.9 220.0,181.9 218.8,183.5 C217.6,185.1 217.1,186.7 216.3,189.6 C215.5,192.5 214.7,197.2 213.9,200.7 C213.1,204.2 211.6,207.8 211.4,210.5 C211.2,213.2 213.0,214.6 212.6,216.7 C212.2,218.8 209.7,220.6 208.9,222.8 C208.1,225.1 209.3,228.6 207.7,230.2 C206.1,231.8 201.6,232.0 199.1,232.6 C196.6,233.2 195.0,233.4 192.9,233.8 C190.9,234.3 188.4,234.3 186.8,235.1 C185.2,235.9 184.1,236.4 183.2,238.8 C182.3,241.2 182.0,245.9 181.3,249.4 C180.7,252.9 181.7,258.2 179.5,260.0 C177.3,261.8 169.7,261.7 168.0,260.0 C166.3,258.3 168.9,253.3 169.3,250.0 C169.8,246.7 170.2,243.3 170.7,240.0 C171.1,236.7 172.4,233.2 172.0,230.0 C171.6,226.8 169.7,224.0 168.5,221.0 C167.3,218.0 163.9,213.4 165.0,212.0Z" fill="#D8E8FF"/>
<path d="M267.5,245.0 C268.0,243.2 273.0,245.0 275.8,245.0 C278.5,245.0 281.3,245.0 284.0,245.0 C286.8,245.0 290.6,243.2 292.3,245.0 C294.0,246.8 295.3,252.7 294.1,255.6 C292.9,258.6 285.8,260.7 285.2,262.7 C284.6,264.8 290.4,266.3 290.5,268.1 C290.7,269.8 287.6,271.6 286.1,273.4 C284.6,275.2 283.3,278.4 281.7,278.7 C280.0,279.0 278.1,276.3 276.3,275.2 C274.6,274.0 271.8,273.5 271.0,271.6 C270.3,269.7 271.6,266.3 271.9,263.6 C272.2,261.0 273.5,258.7 272.8,255.6 C272.1,252.5 267.0,246.8 267.5,245.0Z" fill="#D8E8FF"/>
<path d="M267.5,284.0 C269.2,283.4 275.2,287.1 278.1,287.6 C281.1,288.0 282.8,287.0 285.2,286.7 C287.6,286.4 290.8,285.4 292.3,285.8 C293.8,286.2 294.7,287.3 294.1,289.3 C293.5,291.4 291.1,296.1 288.8,298.2 C286.4,300.3 282.8,300.6 279.9,301.8 C276.9,302.9 273.1,305.9 271.0,305.3 C269.0,304.7 268.1,300.6 267.5,298.2 C266.9,295.8 267.5,293.5 267.5,291.1 C267.5,288.8 265.7,284.6 267.5,284.0Z" fill="#D8E8FF"/>
<path d="M242.6,194.8 C243.4,194.2 247.4,196.6 249.7,197.5 C252.1,198.4 255.6,198.5 256.8,200.1 C258.0,201.8 258.3,206.0 256.8,207.2 C255.4,208.4 249.9,208.3 248.0,207.2 C246.0,206.2 246.2,203.1 245.3,201.0 C244.4,199.0 241.9,195.4 242.6,194.8Z" fill="#D8E8FF"/>
<path d="M255.1,207.2 C256.5,205.3 259.8,206.6 262.2,206.3 C264.5,206.0 268.2,204.6 269.2,205.5 C270.3,206.3 268.7,209.6 268.4,211.7 C268.1,213.7 269.1,216.0 267.5,217.9 C265.8,219.8 261.0,223.2 258.6,223.2 C256.2,223.2 253.9,220.5 253.3,217.9 C252.7,215.2 253.6,209.2 255.1,207.2Z" fill="#D8E8FF"/>
<path d="M279.9,214.3 C281.5,212.7 287.6,214.9 291.4,215.2 C295.3,215.5 301.0,214.5 302.9,216.1 C304.9,217.7 304.7,223.5 302.9,225.0 C301.2,226.4 295.9,225.0 292.3,225.0 C288.8,225.0 283.7,226.7 281.7,225.0 C279.6,223.2 278.3,216.0 279.9,214.3Z" fill="#D8E8FF"/>
<path d="M283.4,217.0 C284.5,216.0 287.6,217.0 289.6,217.0 C291.7,217.0 294.8,216.0 295.9,217.0 C296.9,218.0 296.9,222.2 295.9,223.2 C294.8,224.2 291.7,223.2 289.6,223.2 C287.6,223.2 284.5,224.2 283.4,223.2 C282.4,222.2 282.4,218.0 283.4,217.0Z" fill="#FFE8D8"/>
</g>
<path d="M151.6,190.9 L152.2,198.0 L154.2,205.2 L156.8,207.8 L158.0,211.7 L164.5,211.0 L171.0,213.0 L177.5,214.9 L182.7,218.1 L186.6,222.0 L189.2,226.6 L191.7,222.0 L196.9,218.8 L203.4,216.2 L206.6,213.0 L207.9,206.5 L208.6,198.7 L211.2,192.2 L215.1,187.0 L218.3,181.8 L220.3,179.3 L224.1,177.3 L229.3,176.0 L236.1,176.1 L241.0,175.1 L247.2,176.7 L253.3,178.5 L258.8,181.9 L265.6,182.8 L271.7,184.0 L273.6,182.2 L274.8,185.9 L276.0,189.6 L280.3,187.7 L285.2,187.7 L288.9,190.2 L292.0,194.2 L295.0,192.3 L299.3,192.6 L301.2,195.7 L300.6,200.6 L301.8,205.5 L303.6,211.7 L304.9,216.6 L302.4,219.0 L298.7,219.6 L296.9,222.1 L300.0,223.9 L301.8,227.6 L307.3,231.3 L311.0,235.0 L313.5,239.9 L314.7,246.0 L314.7,250.0 L314.1,256.0 L315.3,264.6 L312.2,269.5 L309.8,273.2 L311.0,278.1 L306.1,281.7 L302.4,286.7 L300.0,292.8 L295.1,296.5 L295.1,301.4 L290.1,305.1 L282.8,308.8 L277.9,310.6 L272.9,310.0 L268.0,311.2 L263.1,312.4 L258.2,313.7 L253.3,311.2 L250.6,311.9 L247.2,311.2 L243.5,310.3 L242.7,305.6 L245.1,300.8 L245.9,292.9 L241.9,284.9 L244.3,281.7 L242.7,276.2 L237.9,270.6 L232.4,267.5 L226.8,261.9 L222.1,258.7 L221.3,261.1 L218.9,270.6 L213.3,271.4 L212.9,273.8 L214.9,281.7 L214.1,286.5 L211.0,284.1 L208.6,281.7 L205.1,286.7 L200.1,285.4 L194.0,283.0 L191.5,275.6 L189.1,275.6 L182.9,276.8 L180.5,273.2 L182.9,268.2 L180.5,264.6 L178.0,260.9 L179.3,256.0 L174.4,254.7 L168.2,252.3 L170.7,249.8 L171.3,240.0 L172.3,235.0 L172.3,229.8 L168.0,228.0 L163.0,226.5 L161.0,222.0 L160.6,219.4 L154.2,214.2 L150.3,203.9 L150.5,195.0Z" fill="none" stroke="#D8E8FF" stroke-width="3" stroke-linejoin="round" clip-path="url(#c1f)"/>
<path d="M151.6,190.9 L152.2,198.0 L154.2,205.2 L156.8,207.8 L158.0,211.7 L164.5,211.0 L171.0,213.0 L177.5,214.9 L182.7,218.1 L186.6,222.0 L189.2,226.6 L191.7,222.0 L196.9,218.8 L203.4,216.2 L206.6,213.0 L207.9,206.5 L208.6,198.7 L211.2,192.2 L215.1,187.0 L218.3,181.8 L220.3,179.3 L224.1,177.3 L229.3,176.0 L236.1,176.1 L241.0,175.1 L247.2,176.7 L253.3,178.5 L258.8,181.9 L265.6,182.8 L271.7,184.0 L273.6,182.2 L274.8,185.9 L276.0,189.6 L280.3,187.7 L285.2,187.7 L288.9,190.2 L292.0,194.2 L295.0,192.3 L299.3,192.6 L301.2,195.7 L300.6,200.6 L301.8,205.5 L303.6,211.7 L304.9,216.6 L302.4,219.0 L298.7,219.6 L296.9,222.1 L300.0,223.9 L301.8,227.6 L307.3,231.3 L311.0,235.0 L313.5,239.9 L314.7,246.0 L314.7,250.0 L314.1,256.0 L315.3,264.6 L312.2,269.5 L309.8,273.2 L311.0,278.1 L306.1,281.7 L302.4,286.7 L300.0,292.8 L295.1,296.5 L295.1,301.4 L290.1,305.1 L282.8,308.8 L277.9,310.6 L272.9,310.0 L268.0,311.2 L263.1,312.4 L258.2,313.7 L253.3,311.2 L250.6,311.9 L247.2,311.2 L243.5,310.3 L242.7,305.6 L245.1,300.8 L245.9,292.9 L241.9,284.9 L244.3,281.7 L242.7,276.2 L237.9,270.6 L232.4,267.5 L226.8,261.9 L222.1,258.7 L221.3,261.1 L218.9,270.6 L213.3,271.4 L212.9,273.8 L214.9,281.7 L214.1,286.5 L211.0,284.1 L208.6,281.7 L205.1,286.7 L200.1,285.4 L194.0,283.0 L191.5,275.6 L189.1,275.6 L182.9,276.8 L180.5,273.2 L182.9,268.2 L180.5,264.6 L178.0,260.9 L179.3,256.0 L174.4,254.7 L168.2,252.3 L170.7,249.8 L171.3,240.0 L172.3,235.0 L172.3,229.8 L168.0,228.0 L163.0,226.5 L161.0,222.0 L160.6,219.4 L154.2,214.2 L150.3,203.9 L150.5,195.0Z" fill="none" stroke="#000" stroke-width="1.1" stroke-linejoin="round"/>
</g>
<circle cx="231.5" cy="245" r="126.5" fill="none" stroke="#333" stroke-width="1"/>
<clipPath id="c2"><circle cx="490.3" cy="245" r="126.7"/></clipPath>
<g clip-path="url(#c2)">
<rect x="361.6" y="116.3" width="257.4" height="257.4" fill="#FFE8D8"/>
<path d="M419.4,196.6 C420.2,195.4 423.7,193.6 425.6,193.9 C427.5,194.2 430.7,197.0 430.9,198.4 C431.2,199.7 429.0,201.5 427.4,201.9 C425.8,202.4 422.5,201.9 421.2,201.0 C419.9,200.1 418.7,197.8 419.4,196.6Z" fill="#D8E8FF"/>
<path d="M442.5,139.8 C444.1,138.2 449.4,135.2 452.2,134.5 C455.0,133.8 458.6,134.2 459.3,135.4 C460.1,136.6 458.4,139.8 456.7,141.6 C454.9,143.4 451.0,145.6 448.7,146.0 C446.3,146.5 443.5,145.3 442.5,144.3 C441.4,143.2 440.9,141.5 442.5,139.8Z" fill="#FFCAB2"/>
<path d="M473.5,137.2 C474.7,136.0 479.4,135.5 482.4,136.3 C485.3,137.0 489.8,138.8 491.3,141.6 C492.7,144.4 491.3,149.1 491.3,152.8 C491.3,156.6 491.3,160.3 491.3,164.1 C491.3,167.8 492.4,173.6 491.3,175.3 C490.1,177.0 486.5,174.7 484.2,174.4 C481.8,174.1 479.4,172.8 477.1,173.5 C474.7,174.3 471.7,176.8 470.0,178.9 C468.2,180.9 467.9,184.8 466.4,185.9 C464.9,187.1 463.8,186.5 461.1,185.9 C458.4,185.4 453.4,184.5 450.5,182.4 C447.5,180.3 445.7,176.2 443.4,173.5 C441.0,170.9 437.2,168.2 436.3,166.4 C435.4,164.7 436.0,163.6 438.0,162.9 C440.1,162.2 445.4,163.5 448.7,162.0 C451.9,160.5 456.4,155.9 457.6,154.0 C458.7,152.1 455.2,151.4 455.8,150.5 C456.4,149.6 458.7,149.6 461.1,148.7 C463.5,147.8 467.6,146.0 470.0,145.2 C472.3,144.3 474.7,144.7 475.3,143.4 C475.9,142.0 472.3,138.4 473.5,137.2Z" fill="#FFCAB2"/>
<path d="M482.4,157.6 C483.0,156.4 486.2,155.2 487.7,154.9 C489.2,154.6 490.7,154.6 491.3,155.8 C491.8,157.0 492.4,161.0 491.3,162.0 C490.1,163.0 485.6,162.7 484.2,162.0 C482.7,161.3 481.8,158.8 482.4,157.6Z" fill="#FFA880"/>
<path d="M471.7,166.4 C471.6,165.7 474.0,164.3 475.3,164.3 C476.5,164.3 479.0,165.7 479.2,166.4 C479.3,167.2 477.4,168.7 476.2,168.7 C474.9,168.7 471.9,167.2 471.7,166.4Z" fill="#FFA880"/>
<path d="M462.0,196.6 C462.7,193.9 465.1,191.6 466.4,189.5 C467.8,187.4 468.8,185.9 470.0,184.2 C471.2,182.4 471.4,180.3 473.5,178.9 C475.6,177.4 481.8,174.1 482.4,175.3 C483.0,176.5 478.5,183.1 477.1,185.9 C475.6,188.8 474.7,190.1 473.5,192.2 C472.3,194.2 471.2,195.9 470.0,198.4 C468.8,200.9 467.8,206.0 466.4,207.2 C465.1,208.4 462.7,207.2 462.0,205.5 C461.2,203.7 461.2,199.2 462.0,196.6Z" fill="#FFCAB2"/>
<path d="M468.2,184.2 C469.1,182.1 471.7,178.0 473.5,177.1 C475.3,176.2 478.8,176.8 478.8,178.9 C478.8,180.9 475.3,187.7 473.5,189.5 C471.7,191.3 469.1,190.4 468.2,189.5 C467.3,188.6 467.3,186.2 468.2,184.2Z" fill="#FFA880"/>
<path d="M358.2,193.0 C359.6,191.3 363.5,193.3 366.2,193.5 C368.9,193.6 372.0,193.4 374.2,193.9 C376.4,194.4 377.9,195.3 379.5,196.6 C381.1,197.9 382.5,200.1 383.9,201.9 C385.4,203.7 386.2,205.2 388.4,207.2 C390.6,209.3 395.2,211.4 397.2,214.3 C399.3,217.3 398.4,222.3 400.8,225.0 C403.2,227.6 408.5,228.5 411.4,230.3 C414.4,232.1 416.6,233.8 418.5,235.6 C420.5,237.4 421.5,239.2 423.0,240.9 C424.4,242.7 428.6,245.4 427.4,246.3 C426.2,247.1 419.7,246.3 415.9,246.3 C412.0,246.3 408.2,246.3 404.3,246.3 C400.5,246.3 396.7,246.3 392.8,246.3 C389.0,246.3 385.1,246.3 381.3,246.3 C377.4,246.3 373.6,246.3 369.8,246.3 C365.9,246.3 360.1,248.0 358.2,246.3 C356.3,244.5 358.2,239.2 358.2,235.6 C358.2,232.1 358.2,228.5 358.2,225.0 C358.2,221.4 358.2,217.9 358.2,214.3 C358.2,210.8 358.2,207.2 358.2,203.7 C358.2,200.1 356.9,194.7 358.2,193.0Z" fill="#FFCAB2"/>
<path d="M405.2,185.9 C406.0,185.4 408.3,187.4 409.7,189.5 C411.0,191.6 412.3,195.9 413.2,198.4 C414.1,200.9 414.4,202.5 415.0,204.6 C415.6,206.6 416.2,208.6 416.8,210.8 C417.3,213.0 419.1,216.1 418.5,217.9 C417.9,219.6 415.0,222.0 413.2,221.4 C411.4,220.8 409.1,216.7 407.9,214.3 C406.7,212.0 406.7,209.6 406.1,207.2 C405.5,204.9 404.6,202.5 404.3,200.1 C404.1,197.8 404.6,195.4 404.8,193.0 C404.9,190.7 404.4,186.5 405.2,185.9Z" fill="#FFCAB2"/>
<path d="M409.7,211.7 C410.1,210.2 413.7,209.7 415.0,210.8 C416.3,211.8 418.1,216.4 417.6,217.9 C417.2,219.4 413.7,220.7 412.3,219.6 C411.0,218.6 409.2,213.1 409.7,211.7Z" fill="#FFA880"/>
<path d="M370.6,201.9 C372.0,200.6 376.3,198.7 377.7,200.1 C379.2,201.6 380.1,208.1 379.5,210.8 C378.9,213.4 376.0,215.5 374.2,216.1 C372.4,216.7 369.6,215.7 368.9,214.3 C368.1,213.0 369.5,210.2 369.8,208.1 C370.1,206.0 369.3,203.2 370.6,201.9Z" fill="#FFA880"/>
<path d="M383.1,221.4 C383.6,220.2 388.5,219.2 390.2,219.6 C391.8,220.1 393.4,222.9 392.8,224.1 C392.2,225.3 388.2,227.2 386.6,226.7 C385.0,226.3 382.5,222.6 383.1,221.4Z" fill="#FFA880"/>
<path d="M368.0,235.6 C369.2,234.1 374.0,232.4 376.0,232.9 C377.9,233.5 379.8,237.5 379.5,239.2 C379.2,240.8 376.0,242.3 374.2,242.7 C372.4,243.1 369.9,243.0 368.9,241.8 C367.8,240.6 366.8,237.1 368.0,235.6Z" fill="#FFA880"/>
<path d="M405.2,235.6 C406.1,234.3 409.5,231.8 411.4,232.1 C413.4,232.4 416.8,235.8 416.8,237.4 C416.8,239.0 413.2,241.4 411.4,241.8 C409.7,242.3 407.2,241.1 406.1,240.0 C405.1,239.0 404.3,236.9 405.2,235.6Z" fill="#FFA880"/>
<path d="M500.6,118.5 C501.5,117.8 505.4,118.5 507.7,118.5 C510.1,118.5 513.9,117.8 514.8,118.5 C515.7,119.3 515.1,122.2 513.1,123.0 C511.0,123.7 504.5,123.7 502.4,123.0 C500.3,122.2 499.8,119.3 500.6,118.5Z" fill="#D8E8FF"/>
<path d="M532.6,125.6 C534.0,125.3 540.4,126.6 541.4,127.4 C542.5,128.2 540.3,130.3 538.8,130.6 C537.3,130.9 533.6,130.0 532.6,129.2 C531.5,128.4 531.1,125.9 532.6,125.6Z" fill="#D8E8FF"/>
<path d="M571.6,150.5 C572.3,149.3 574.8,147.5 576.9,148.7 C579.0,149.9 583.7,155.6 584.0,157.6 C584.3,159.5 580.6,160.5 578.7,160.2 C576.8,159.9 573.7,157.4 572.5,155.8 C571.3,154.2 570.9,151.7 571.6,150.5Z" fill="#D8E8FF"/>
<path d="M607.1,214.3 C608.4,212.6 612.7,209.9 614.2,210.8 C615.6,211.7 615.3,216.7 615.9,219.6 C616.5,222.6 618.6,227.3 617.7,228.5 C616.8,229.7 612.5,227.9 610.6,226.7 C608.7,225.6 606.8,223.5 606.2,221.4 C605.6,219.4 605.7,216.1 607.1,214.3Z" fill="#D8E8FF"/>
<path d="M488.2,146.9 C489.7,145.1 495.3,148.0 497.1,146.9 C498.9,145.9 498.3,142.8 498.9,140.7 C499.5,138.6 499.5,134.9 500.6,134.5 C501.8,134.1 504.2,137.2 506.0,138.5 C507.7,139.8 508.9,142.0 511.3,142.5 C513.6,143.0 517.2,141.9 520.2,141.6 C523.1,141.3 525.9,141.2 529.0,140.7 C532.1,140.2 535.5,139.2 538.8,138.5 C542.0,137.8 545.7,135.9 548.5,136.3 C551.3,136.7 555.3,138.4 555.6,140.7 C555.9,143.1 550.0,147.4 550.3,150.5 C550.6,153.6 554.7,157.3 557.4,159.3 C560.1,161.4 563.3,161.7 566.3,162.9 C569.2,164.1 574.5,165.0 575.1,166.4 C575.7,167.9 569.8,169.4 569.8,171.8 C569.8,174.1 573.4,178.4 575.1,180.6 C576.9,182.8 578.7,183.6 580.5,185.1 C582.2,186.5 584.0,187.0 585.8,189.5 C587.6,192.0 589.6,196.6 591.1,200.1 C592.6,203.7 593.3,208.1 594.6,210.8 C596.0,213.4 597.6,214.3 599.1,216.1 C600.6,217.9 602.0,219.8 603.5,221.4 C605.0,223.0 606.5,224.4 607.9,225.9 C609.4,227.3 611.2,228.5 612.4,230.3 C613.6,232.1 614.2,234.4 615.0,236.5 C615.9,238.6 617.3,241.1 617.7,242.7 C618.1,244.3 619.7,245.7 617.7,246.3 C615.7,246.8 609.9,246.3 605.9,246.3 C602.0,246.3 598.1,246.3 594.2,246.3 C590.2,246.3 586.3,246.3 582.4,246.3 C578.5,246.3 574.5,246.3 570.6,246.3 C566.7,246.3 562.8,246.3 558.9,246.3 C554.9,246.3 551.0,246.3 547.1,246.3 C543.2,246.3 539.2,246.3 535.3,246.3 C531.4,246.3 527.5,246.3 523.5,246.3 C519.6,246.3 515.7,246.3 511.8,246.3 C507.8,246.3 503.9,246.3 500.0,246.3 C496.1,246.3 490.2,248.1 488.2,246.3 C486.3,244.4 488.2,238.9 488.2,235.2 C488.2,231.5 488.2,227.9 488.2,224.2 C488.2,220.5 488.2,216.8 488.2,213.1 C488.2,209.5 488.2,205.8 488.2,202.1 C488.2,198.4 488.2,194.7 488.2,191.1 C488.2,187.4 488.2,183.7 488.2,180.0 C488.2,176.4 488.2,172.7 488.2,169.0 C488.2,165.3 488.2,161.6 488.2,158.0 C488.2,154.3 486.7,148.8 488.2,146.9Z" fill="#FFCAB2"/>
<path d="M500.6,165.5 C501.7,164.3 504.8,165.8 506.8,166.0 C508.9,166.1 510.8,165.5 513.1,166.4 C515.3,167.4 519.6,170.3 520.2,171.8 C520.7,173.2 518.5,174.9 516.6,175.3 C514.7,175.7 511.3,174.7 508.6,174.4 C506.0,174.1 502.0,175.0 500.6,173.5 C499.3,172.1 499.6,166.8 500.6,165.5Z" fill="#FFE8D8"/>
<path d="M521.9,171.8 C523.1,171.1 528.4,171.8 530.8,173.5 C533.2,175.3 537.0,180.8 536.1,182.4 C535.2,184.0 527.5,184.1 525.5,183.3 C523.4,182.5 524.3,179.4 523.7,177.5 C523.1,175.6 520.7,172.4 521.9,171.8Z" fill="#FFE8D8"/>
<path d="M488.2,155.8 C490.0,154.9 495.6,155.4 498.9,155.8 C502.1,156.2 504.8,157.3 507.7,158.0 C510.7,158.8 513.8,159.3 516.6,160.2 C519.4,161.2 521.9,162.6 524.6,163.8 C527.2,165.0 531.5,166.4 532.6,167.3 C533.6,168.2 532.3,169.1 530.8,169.1 C529.3,169.1 526.1,167.9 523.7,167.3 C521.3,166.7 519.1,166.1 516.6,165.5 C514.1,165.0 511.3,164.4 508.6,163.8 C506.0,163.2 503.0,162.4 500.6,162.0 C498.3,161.6 496.5,161.7 494.4,161.6 C492.4,161.4 489.3,162.1 488.2,161.1 C487.2,160.2 486.5,156.7 488.2,155.8Z" fill="#FFA880"/>
<path d="M556.5,182.4 C557.7,180.9 561.7,180.0 564.5,180.6 C567.3,181.2 571.3,183.9 573.4,185.9 C575.4,188.0 577.8,191.7 576.9,193.0 C576.0,194.4 571.3,194.5 568.0,193.9 C564.8,193.3 559.3,191.4 557.4,189.5 C555.5,187.6 555.3,183.9 556.5,182.4Z" fill="#FFA880"/>
<path d="M561.8,200.1 C562.8,198.2 566.1,198.7 568.0,199.2 C570.0,199.8 571.6,201.9 573.4,203.2 C575.1,204.6 577.2,205.7 578.7,207.2 C580.2,208.8 581.0,210.8 582.2,212.6 C583.4,214.3 584.6,216.0 585.8,217.9 C587.0,219.8 588.1,222.0 589.3,224.1 C590.5,226.2 592.1,227.9 592.9,230.3 C593.6,232.7 593.5,235.6 593.8,238.3 C594.1,240.9 596.3,244.9 594.6,246.3 C593.0,247.6 587.6,246.3 584.0,246.3 C580.5,246.3 575.7,247.4 573.4,246.3 C571.0,245.1 571.0,241.8 569.8,239.2 C568.6,236.5 567.5,233.2 566.3,230.3 C565.1,227.3 563.4,224.7 562.7,221.4 C562.1,218.2 562.4,214.3 562.3,210.8 C562.1,207.2 560.9,202.1 561.8,200.1Z" fill="#FFA880"/>
<path d="M570.7,230.3 C571.6,229.4 575.6,230.0 576.9,232.1 C578.2,234.1 579.4,240.6 578.7,242.7 C577.9,244.8 573.7,245.4 572.5,244.5 C571.3,243.6 571.9,239.7 571.6,237.4 C571.3,235.0 569.8,231.2 570.7,230.3Z" fill="#FFE8D8"/>
<path d="M358.2,243.2 C360.2,241.4 366.0,243.2 369.9,243.2 C373.8,243.2 377.7,243.2 381.6,243.2 C385.5,243.2 389.4,243.2 393.3,243.2 C397.2,243.2 401.1,243.2 405.1,243.2 C409.0,243.2 415.4,242.0 416.8,243.2 C418.1,244.4 412.6,247.7 413.2,250.3 C413.8,253.0 418.5,256.8 420.3,259.2 C422.1,261.6 422.7,262.7 423.9,264.5 C425.0,266.3 426.7,267.9 427.4,269.8 C428.1,271.8 427.7,274.0 427.8,276.0 C428.0,278.1 427.8,279.7 428.3,282.2 C428.8,284.8 429.0,289.0 430.9,291.1 C432.9,293.2 437.0,292.9 439.8,294.7 C442.6,296.4 446.9,299.8 447.8,301.8 C448.7,303.7 447.1,305.9 445.1,306.2 C443.2,306.5 439.1,304.6 436.3,303.5 C433.5,302.5 430.2,299.7 428.3,300.0 C426.4,300.3 424.7,302.9 424.7,305.3 C424.7,307.7 428.4,312.3 428.3,314.2 C428.1,316.1 425.5,316.9 423.9,316.8 C422.2,316.8 420.3,314.8 418.5,313.7 C416.8,312.7 415.4,311.1 413.2,310.6 C411.0,310.1 406.7,309.1 405.2,310.6 C403.8,312.1 403.9,316.5 404.3,319.5 C404.8,322.5 406.4,326.0 407.9,328.4 C409.4,330.7 411.7,331.0 413.2,333.7 C414.7,336.3 416.8,341.4 416.8,344.3 C416.8,347.3 415.6,350.2 413.2,351.4 C410.8,352.6 405.9,351.4 402.2,351.4 C398.5,351.4 394.9,351.4 391.2,351.4 C387.6,351.4 383.9,351.4 380.2,351.4 C376.6,351.4 372.9,351.4 369.2,351.4 C365.6,351.4 360.1,353.2 358.2,351.4 C356.4,349.6 358.2,344.2 358.2,340.6 C358.2,337.0 358.2,333.4 358.2,329.8 C358.2,326.2 358.2,322.6 358.2,319.0 C358.2,315.4 358.2,311.7 358.2,308.1 C358.2,304.5 358.2,300.9 358.2,297.3 C358.2,293.7 358.2,290.1 358.2,286.5 C358.2,282.9 358.2,279.3 358.2,275.7 C358.2,272.1 358.2,268.5 358.2,264.9 C358.2,261.3 358.2,257.7 358.2,254.0 C358.2,250.4 356.3,245.0 358.2,243.2Z" fill="#FFCAB2"/>
<path d="M390.2,262.7 C391.2,261.1 395.5,260.2 397.2,261.0 C399.0,261.7 401.1,265.2 400.8,267.2 C400.5,269.1 397.1,271.9 395.5,272.5 C393.8,273.1 391.9,272.3 391.0,270.7 C390.2,269.1 389.1,264.4 390.2,262.7Z" fill="#FFE8D8"/>
<path d="M375.1,264.5 C375.7,262.3 379.7,259.5 381.3,259.2 C382.9,258.9 384.4,260.8 384.8,262.7 C385.3,264.7 385.1,269.1 383.9,270.7 C382.8,272.3 379.2,273.5 377.7,272.5 C376.3,271.5 374.5,266.7 375.1,264.5Z" fill="#FFA880"/>
<path d="M404.3,257.4 C405.1,256.2 409.1,255.6 410.5,256.5 C412.0,257.4 413.9,261.6 413.2,262.7 C412.5,263.9 407.6,264.5 406.1,263.6 C404.6,262.7 403.6,258.6 404.3,257.4Z" fill="#FFA880"/>
<path d="M401.7,280.5 C401.8,279.3 403.5,277.4 404.3,277.8 C405.1,278.3 406.6,282.0 406.5,283.1 C406.3,284.3 404.3,285.4 403.5,284.9 C402.7,284.5 401.5,281.7 401.7,280.5Z" fill="#FFA880"/>
<path d="M374.2,290.2 C375.1,288.6 378.6,287.0 380.4,287.6 C382.2,288.2 384.7,291.9 384.8,293.8 C385.0,295.7 382.9,298.5 381.3,299.1 C379.7,299.7 376.3,298.8 375.1,297.3 C373.9,295.8 373.3,291.9 374.2,290.2Z" fill="#FFA880"/>
<path d="M386.6,315.9 C386.9,313.7 390.2,311.5 391.9,311.5 C393.7,311.5 396.5,313.9 397.2,315.9 C398.0,318.0 397.5,322.5 396.4,323.9 C395.2,325.4 391.8,326.1 390.2,324.8 C388.5,323.5 386.3,318.2 386.6,315.9Z" fill="#FFA880"/>
<path d="M420.3,330.1 C421.3,328.5 423.3,326.9 425.6,327.5 C428.0,328.1 432.0,332.7 434.5,333.7 C437.0,334.6 438.6,333.4 440.7,333.2 C442.8,333.1 444.7,331.8 446.9,332.8 C449.1,333.8 451.9,337.5 454.0,339.0 C456.1,340.5 457.3,341.7 459.3,341.7 C461.4,341.7 464.1,338.7 466.4,339.0 C468.8,339.3 472.6,341.4 473.5,343.4 C474.4,345.5 473.5,349.9 471.7,351.4 C470.0,352.9 465.8,352.0 462.9,352.3 C459.9,352.6 456.4,352.5 454.0,353.2 C451.6,353.9 451.3,356.3 448.7,356.7 C446.0,357.2 440.9,356.4 438.0,355.9 C435.2,355.3 433.9,354.4 431.8,353.6 C429.8,352.9 427.7,353.0 425.6,351.4 C423.6,349.9 420.4,346.7 419.4,344.3 C418.5,342.0 419.7,339.6 419.9,337.2 C420.0,334.9 419.3,331.8 420.3,330.1Z" fill="#D8E8FF"/>
<path d="M467.3,312.4 C468.6,310.8 472.6,308.9 475.3,308.0 C477.9,307.0 480.6,307.1 483.3,306.6 C485.9,306.2 489.9,303.8 491.3,305.3 C492.6,306.9 491.3,312.4 491.3,315.9 C491.3,319.5 491.3,323.0 491.3,326.6 C491.3,330.1 492.7,335.2 491.3,337.2 C489.8,339.3 483.9,339.7 482.4,339.0 C480.9,338.3 482.4,334.9 482.4,332.8 C482.4,330.7 483.9,328.8 482.4,326.6 C480.9,324.4 476.0,321.0 473.5,319.5 C471.0,318.0 468.3,318.9 467.3,317.7 C466.3,316.5 466.0,314.0 467.3,312.4Z" fill="#FFCAB2"/>
<path d="M477.1,367.4 C478.2,365.0 481.8,363.2 484.2,362.1 C486.5,360.9 490.1,359.3 491.3,360.3 C492.4,361.3 491.3,365.6 491.3,368.3 C491.3,370.9 492.4,374.9 491.3,376.3 C490.1,377.6 486.5,376.3 484.2,376.3 C481.8,376.3 478.2,377.7 477.1,376.3 C475.9,374.8 475.9,369.7 477.1,367.4Z" fill="#FFCAB2"/>
<path d="M573.4,243.2 C574.8,242.2 579.1,243.2 581.9,243.2 C584.8,243.2 587.7,243.2 590.5,243.2 C593.4,243.2 597.9,241.6 599.1,243.2 C600.3,244.9 598.2,249.7 597.8,253.0 C597.3,256.2 597.1,259.6 596.4,262.7 C595.8,265.8 594.6,268.6 593.8,271.6 C592.9,274.6 592.0,278.0 591.1,280.5 C590.2,283.0 589.3,284.6 588.4,286.7 C587.6,288.8 587.7,290.7 585.8,292.9 C583.9,295.1 579.6,297.6 576.9,300.0 C574.2,302.3 571.6,304.4 569.8,307.1 C568.0,309.7 568.0,313.9 566.3,315.9 C564.5,318.0 561.5,319.8 559.2,319.5 C556.8,319.2 553.0,316.5 552.1,314.2 C551.2,311.8 552.4,308.0 553.9,305.3 C555.3,302.6 558.9,300.9 560.9,298.2 C563.0,295.5 564.8,292.3 566.3,289.3 C567.7,286.4 568.6,283.4 569.8,280.5 C571.0,277.5 572.8,274.4 573.4,271.6 C574.0,268.8 573.4,266.3 573.4,263.6 C573.4,261.0 573.4,258.0 573.4,255.6 C573.4,253.3 573.4,251.5 573.4,249.4 C573.4,247.4 571.9,244.3 573.4,243.2Z" fill="#FFCAB2"/>
<path d="M578.7,243.2 C579.3,242.2 584.6,243.2 587.6,243.2 C590.5,243.2 594.9,242.2 596.4,243.2 C597.9,244.3 596.4,247.4 596.4,249.4 C596.4,251.5 597.0,253.3 596.4,255.6 C595.8,258.0 594.1,261.0 592.9,263.6 C591.7,266.3 590.4,269.1 589.3,271.6 C588.3,274.1 587.6,276.3 586.7,278.7 C585.8,281.1 585.3,282.8 584.0,285.8 C582.7,288.8 580.2,295.3 578.7,296.4 C577.2,297.6 575.3,294.5 575.1,292.9 C575.0,291.3 576.9,288.8 577.8,286.7 C578.7,284.6 579.6,282.7 580.5,280.5 C581.3,278.3 582.2,275.7 583.1,273.4 C584.0,271.0 584.7,269.2 585.8,266.3 C586.8,263.3 589.6,258.5 589.3,255.6 C589.0,252.8 585.8,251.5 584.0,249.4 C582.2,247.4 578.1,244.3 578.7,243.2Z" fill="#FFA880"/>
<path d="M596.4,294.7 C597.3,292.4 600.3,289.9 601.7,290.2 C603.2,290.5 605.3,294.1 605.3,296.4 C605.3,298.8 603.2,303.2 601.7,304.4 C600.3,305.6 597.3,305.2 596.4,303.5 C595.5,301.9 595.5,296.9 596.4,294.7Z" fill="#FFCAB2"/>
<path d="M488.2,310.6 C489.3,309.2 492.4,311.5 494.4,312.0 C496.5,312.4 498.4,313.0 500.6,313.3 C502.9,313.6 505.4,313.6 507.7,313.7 C510.1,313.9 512.2,314.2 514.8,314.2 C517.5,314.2 520.7,313.9 523.7,313.7 C526.7,313.6 529.9,313.7 532.6,313.3 C535.2,312.8 537.3,311.8 539.7,311.1 C542.0,310.3 544.4,309.5 546.8,308.9 C549.1,308.2 551.8,305.6 553.9,307.1 C555.9,308.6 560.1,315.1 559.2,317.7 C558.3,320.4 550.0,321.0 548.5,323.0 C547.1,325.1 551.2,328.7 550.3,330.1 C549.4,331.6 545.6,331.3 543.2,331.9 C540.8,332.5 538.8,332.8 536.1,333.7 C533.5,334.6 530.2,336.0 527.2,337.2 C524.3,338.4 521.0,339.9 518.4,340.8 C515.7,341.7 513.6,342.0 511.3,342.6 C508.9,343.1 506.7,344.3 504.2,344.3 C501.7,344.3 498.9,343.1 496.2,342.6 C493.5,342.0 489.6,342.7 488.2,340.8 C486.9,338.8 488.2,334.1 488.2,330.7 C488.2,327.4 488.2,324.0 488.2,320.7 C488.2,317.3 487.2,312.1 488.2,310.6Z" fill="#FFCAB2"/>
<path d="M493.5,323.0 C494.1,321.8 498.3,321.6 500.6,320.8 C503.0,320.1 505.1,319.1 507.7,318.6 C510.4,318.2 513.6,318.3 516.6,318.2 C519.6,318.0 523.0,317.9 525.5,317.7 C528.0,317.6 529.6,317.4 531.7,317.3 C533.8,317.1 536.3,316.2 537.9,316.8 C539.5,317.5 542.6,319.8 541.4,321.3 C540.3,322.7 534.0,324.7 530.8,325.7 C527.5,326.7 524.9,326.6 521.9,327.0 C519.0,327.5 515.9,328.1 513.1,328.4 C510.2,328.6 507.7,328.4 505.1,328.4 C502.4,328.4 499.0,329.2 497.1,328.4 C495.2,327.5 493.0,324.3 493.5,323.0Z" fill="#FFE8D8"/>
<path d="M541.4,310.6 C542.0,309.6 545.3,308.6 546.8,308.9 C548.2,309.1 550.9,311.4 550.3,312.4 C549.7,313.4 544.7,315.4 543.2,315.1 C541.7,314.8 540.8,311.7 541.4,310.6Z" fill="#FFA880"/>
<path d="M535.2,340.8 C536.4,339.7 540.4,337.9 543.2,337.2 C546.0,336.6 549.1,336.9 552.1,336.8 C555.0,336.6 558.0,335.5 560.9,336.3 C563.9,337.2 569.2,339.7 569.8,341.7 C570.4,343.6 566.9,346.1 564.5,347.9 C562.1,349.6 558.6,352.6 555.6,352.3 C552.7,352.0 550.0,347.6 546.8,346.1 C543.5,344.6 538.0,344.3 536.1,343.4 C534.2,342.6 534.0,341.8 535.2,340.8Z" fill="#D8E8FF"/>
<path d="M488.2,337.2 C489.6,335.9 493.5,338.4 496.2,339.0 C498.9,339.6 501.7,340.2 504.2,340.8 C506.7,341.4 508.9,342.0 511.3,342.6 C513.6,343.1 516.2,343.4 518.4,344.3 C520.6,345.2 522.5,346.7 524.6,347.9 C526.7,349.1 528.9,350.2 530.8,351.4 C532.7,352.6 534.3,353.8 536.1,355.0 C537.9,356.2 540.8,356.2 541.4,358.5 C542.0,360.9 541.7,367.1 539.7,369.2 C537.7,371.2 532.8,370.1 529.4,370.6 C525.9,371.0 522.5,371.5 519.1,372.0 C515.7,372.5 512.2,372.9 508.8,373.4 C505.4,373.9 501.9,374.4 498.5,374.8 C495.1,375.3 489.9,377.6 488.2,376.3 C486.5,374.9 488.2,369.7 488.2,366.5 C488.2,363.2 488.2,360.0 488.2,356.7 C488.2,353.5 488.2,350.2 488.2,347.0 C488.2,343.7 486.9,338.6 488.2,337.2Z" fill="#FFCAB2"/>
<path d="M500.6,351.4 C501.8,349.6 506.3,349.1 509.5,349.6 C512.8,350.2 518.1,352.9 520.2,355.0 C522.2,357.0 523.4,360.6 521.9,362.1 C520.4,363.5 514.5,364.1 511.3,363.8 C508.0,363.5 504.2,362.4 502.4,360.3 C500.6,358.2 499.5,353.2 500.6,351.4Z" fill="#FFA880"/>
<path d="M436.2,133.7 C434.3,136.0 434.0,136.6 431.8,138.1 C429.6,139.6 426.0,141.1 423.1,142.5 C420.2,143.9 416.2,145.1 414.4,146.8 C412.6,148.5 412.9,150.8 412.2,152.8 C411.5,154.8 410.9,156.8 410.0,158.8 C409.1,160.8 407.8,162.8 406.8,164.8 C405.7,166.8 403.9,168.7 403.5,170.8 C403.1,172.9 405.0,174.9 404.6,177.4 C404.2,179.9 402.4,182.8 401.3,186.1 C400.2,189.4 399.3,194.6 398.0,197.0 C396.7,199.4 395.3,201.0 393.7,200.3 C392.1,199.6 389.3,195.2 388.2,192.7 C387.1,190.1 386.7,187.9 387.1,185.0 C387.5,182.1 388.6,177.2 390.4,175.2 C392.2,173.2 396.4,174.1 398.0,173.0 C399.6,171.9 400.6,170.5 400.2,168.7 C399.8,166.9 397.4,164.2 395.8,162.1 C394.2,160.0 392.2,158.1 390.4,156.1 C388.6,154.0 384.5,152.2 385.0,150.0 C385.5,147.8 390.6,145.1 393.3,142.7 C396.1,140.2 398.9,137.8 401.7,135.3 C404.4,132.9 406.9,129.8 410.0,128.0 C413.1,126.2 416.7,125.8 420.0,124.8 C423.3,123.7 426.7,122.6 430.0,121.5 C433.3,120.4 436.7,119.3 440.0,118.2 C443.3,117.2 449.5,114.0 450.0,115.0 C450.5,116.0 445.4,121.2 443.1,124.3 C440.8,127.5 438.1,131.4 436.2,133.7Z" fill="#D8E8FF"/>
<path d="M414.4,164.3 C414.7,163.2 417.1,162.4 418.0,163.0 C418.9,163.6 420.1,166.9 419.8,168.0 C419.5,169.1 416.9,170.3 416.0,169.7 C415.1,169.1 414.1,165.4 414.4,164.3Z" fill="#FFCAB2"/>
<path d="M473.7,284.9 C474.1,283.8 475.2,283.4 476.9,283.3 C478.6,283.2 481.4,283.8 483.6,284.1 C485.9,284.4 487.7,284.0 490.4,284.9 C493.1,285.8 497.3,288.3 499.9,289.7 C502.5,291.1 505.0,290.5 506.0,293.0 C507.0,295.5 506.0,300.7 506.0,304.5 C506.0,308.3 507.6,314.1 506.0,316.0 C504.4,317.9 499.6,316.8 496.7,315.9 C493.8,314.9 491.4,312.0 488.8,310.3 C486.2,308.6 483.0,307.7 480.9,305.6 C478.8,303.5 477.2,300.2 476.1,297.6 C475.0,295.0 474.9,291.8 474.5,289.7 C474.1,287.6 473.3,286.0 473.7,284.9Z" fill="#FFA880"/>
<path d="M480.1,288.1 C481.4,287.4 487.2,287.3 488.8,288.9 C490.4,290.5 489.9,296.0 489.6,297.6 C489.3,299.2 488.6,299.2 487.2,298.4 C485.8,297.6 482.1,294.6 480.9,292.9 C479.7,291.2 478.8,288.8 480.1,288.1Z" fill="#FF7A48"/>
<path d="M496.7,290.5 C497.7,289.1 500.8,288.2 502.3,288.9 C503.9,289.5 505.4,292.2 506.0,294.4 C506.6,296.6 506.9,299.4 506.0,302.0 C505.1,304.6 502.1,309.7 500.7,310.3 C499.3,310.9 498.2,307.7 497.5,305.6 C496.8,303.5 496.4,300.1 496.3,297.6 C496.2,295.1 495.7,291.9 496.7,290.5Z" fill="#FF7A48"/>
<path d="M500.7,289.7 C501.3,288.5 504.3,288.6 505.0,289.7 C505.7,290.8 505.6,294.8 505.0,296.0 C504.4,297.2 502.2,297.9 501.5,296.8 C500.8,295.8 500.1,290.9 500.7,289.7Z" fill="#FF5020"/>
<path d="M410.4,190.9 L411.0,198.0 L414.3,202.6 L425.9,209.1 L436.3,213.0 L444.1,216.8 L449.2,218.1 L454.4,216.8 L460.9,213.0 L464.8,207.8 L467.4,201.3 L467.4,198.7 L470.0,192.2 L473.9,187.0 L477.1,181.8 L479.1,179.3 L482.9,177.3 L488.1,176.0 L494.9,176.1 L499.8,175.1 L506.0,176.7 L512.1,178.5 L517.6,181.9 L524.4,182.8 L530.5,184.0 L532.4,182.2 L533.6,185.9 L534.8,189.6 L539.1,187.7 L544.0,187.7 L547.7,190.2 L550.8,194.2 L553.8,192.3 L558.1,192.6 L560.0,195.7 L559.4,200.6 L560.6,205.5 L562.4,211.7 L563.7,216.6 L561.2,219.0 L557.5,219.6 L555.7,222.1 L558.8,223.9 L560.6,227.6 L566.1,231.3 L569.8,235.0 L572.3,239.9 L573.5,246.0 L573.5,250.0 L572.9,256.0 L574.1,264.6 L571.0,269.5 L568.6,273.2 L569.8,278.1 L564.9,281.7 L561.2,286.7 L558.8,292.8 L553.9,296.5 L553.9,301.4 L548.9,305.1 L541.6,308.8 L536.7,310.6 L531.7,310.0 L526.8,311.2 L521.9,312.4 L517.0,313.7 L512.1,311.2 L509.4,311.9 L506.0,311.2 L502.3,310.3 L501.5,305.6 L503.9,300.8 L504.7,292.9 L502.3,288.1 L499.9,289.7 L495.2,289.7 L488.8,284.9 L480.9,283.3 L473.7,284.9 L472.9,286.5 L469.8,284.1 L467.4,281.7 L463.9,286.7 L458.9,285.4 L452.8,283.0 L450.3,275.6 L447.9,275.6 L441.7,276.8 L439.3,273.2 L441.7,268.2 L439.3,264.6 L436.8,260.9 L438.1,256.0 L433.2,254.7 L427.0,252.3 L429.5,249.8 L430.1,240.0 L431.1,235.0 L431.1,229.8 L426.8,228.0 L421.8,226.5 L419.8,222.0 L419.4,219.4 L413.0,214.2 L409.1,203.9 L409.3,195.0Z" fill="#FFFFFF"/>
<clipPath id="c2f"><path d="M410.4,190.9 L411.0,198.0 L414.3,202.6 L425.9,209.1 L436.3,213.0 L444.1,216.8 L449.2,218.1 L454.4,216.8 L460.9,213.0 L464.8,207.8 L467.4,201.3 L467.4,198.7 L470.0,192.2 L473.9,187.0 L477.1,181.8 L479.1,179.3 L482.9,177.3 L488.1,176.0 L494.9,176.1 L499.8,175.1 L506.0,176.7 L512.1,178.5 L517.6,181.9 L524.4,182.8 L530.5,184.0 L532.4,182.2 L533.6,185.9 L534.8,189.6 L539.1,187.7 L544.0,187.7 L547.7,190.2 L550.8,194.2 L553.8,192.3 L558.1,192.6 L560.0,195.7 L559.4,200.6 L560.6,205.5 L562.4,211.7 L563.7,216.6 L561.2,219.0 L557.5,219.6 L555.7,222.1 L558.8,223.9 L560.6,227.6 L566.1,231.3 L569.8,235.0 L572.3,239.9 L573.5,246.0 L573.5,250.0 L572.9,256.0 L574.1,264.6 L571.0,269.5 L568.6,273.2 L569.8,278.1 L564.9,281.7 L561.2,286.7 L558.8,292.8 L553.9,296.5 L553.9,301.4 L548.9,305.1 L541.6,308.8 L536.7,310.6 L531.7,310.0 L526.8,311.2 L521.9,312.4 L517.0,313.7 L512.1,311.2 L509.4,311.9 L506.0,311.2 L502.3,310.3 L501.5,305.6 L503.9,300.8 L504.7,292.9 L502.3,288.1 L499.9,289.7 L495.2,289.7 L488.8,284.9 L480.9,283.3 L473.7,284.9 L472.9,286.5 L469.8,284.1 L467.4,281.7 L463.9,286.7 L458.9,285.4 L452.8,283.0 L450.3,275.6 L447.9,275.6 L441.7,276.8 L439.3,273.2 L441.7,268.2 L439.3,264.6 L436.8,260.9 L438.1,256.0 L433.2,254.7 L427.0,252.3 L429.5,249.8 L430.1,240.0 L431.1,235.0 L431.1,229.8 L426.8,228.0 L421.8,226.5 L419.8,222.0 L419.4,219.4 L413.0,214.2 L409.1,203.9 L409.3,195.0Z"/></clipPath>
<path d="M410.4,190.9 L411.0,198.0 L413.0,205.2 L415.6,207.8 L416.8,211.7 L423.3,211.0 L429.8,213.0 L436.3,214.9 L441.5,218.1 L445.4,222.0 L448.0,226.6 L450.5,222.0 L455.7,218.8 L462.2,216.2 L465.4,213.0 L466.7,206.5 L467.4,198.7 L470.0,192.2 L473.9,187.0 L477.1,181.8 L479.1,179.3 L482.9,177.3 L488.1,176.0 L494.9,176.1 L499.8,175.1 L506.0,176.7 L512.1,178.5 L517.6,181.9 L524.4,182.8 L530.5,184.0 L532.4,182.2 L533.6,185.9 L534.8,189.6 L539.1,187.7 L544.0,187.7 L547.7,190.2 L550.8,194.2 L553.8,192.3 L558.1,192.6 L560.0,195.7 L559.4,200.6 L560.6,205.5 L562.4,211.7 L563.7,216.6 L561.2,219.0 L557.5,219.6 L555.7,222.1 L558.8,223.9 L560.6,227.6 L566.1,231.3 L569.8,235.0 L572.3,239.9 L573.5,246.0 L573.5,250.0 L572.9,256.0 L574.1,264.6 L571.0,269.5 L568.6,273.2 L569.8,278.1 L564.9,281.7 L561.2,286.7 L558.8,292.8 L553.9,296.5 L553.9,301.4 L548.9,305.1 L541.6,308.8 L536.7,310.6 L531.7,310.0 L526.8,311.2 L521.9,312.4 L517.0,313.7 L512.1,311.2 L509.4,311.9 L506.0,311.2 L502.3,310.3 L501.5,305.6 L503.9,300.8 L504.7,292.9 L500.7,284.9 L503.1,281.7 L501.5,276.2 L496.7,270.6 L491.2,267.5 L485.6,261.9 L480.9,258.7 L480.1,261.1 L477.7,270.6 L472.1,271.4 L471.7,273.8 L473.7,281.7 L472.9,286.5 L469.8,284.1 L467.4,281.7 L463.9,286.7 L458.9,285.4 L452.8,283.0 L450.3,275.6 L447.9,275.6 L441.7,276.8 L439.3,273.2 L441.7,268.2 L439.3,264.6 L436.8,260.9 L438.1,256.0 L433.2,254.7 L427.0,252.3 L429.5,249.8 L430.1,240.0 L431.1,235.0 L431.1,229.8 L426.8,228.0 L421.8,226.5 L419.8,222.0 L419.4,219.4 L413.0,214.2 L409.1,203.9 L409.3,195.0Z" fill="none" stroke="#000" stroke-width="1.1" stroke-linejoin="round"/>
</g>
<circle cx="490.3" cy="245" r="126.7" fill="none" stroke="#333" stroke-width="1"/>
<clipPath id="c3"><circle cx="361.5" cy="654.3" r="127"/></clipPath>
<g clip-path="url(#c3)">
<rect x="232.5" y="525.3" width="258" height="258" fill="#D8E8FF"/>
<path d="M257.6,569.9 C256.0,572.2 255.5,575.6 254.4,578.4 C253.3,581.2 252.3,584.1 251.2,586.9 C250.2,589.7 249.1,592.5 248.0,595.3 C247.0,598.2 245.2,600.8 244.8,603.8 C244.5,606.9 245.6,610.2 246.0,613.7 C246.4,617.2 247.0,621.3 247.1,624.6 C247.2,627.8 246.9,630.2 246.7,633.0 C246.6,635.8 246.5,638.7 246.4,641.5 C246.2,644.3 246.1,647.5 246.0,649.9 C245.9,652.4 244.6,655.1 246.0,656.1 C247.4,657.2 251.5,656.1 254.2,656.1 C256.9,656.1 261.0,657.2 262.4,656.1 C263.8,655.1 263.3,652.7 262.4,649.9 C261.5,647.2 257.6,643.0 256.9,639.8 C256.2,636.7 257.4,633.6 258.0,631.1 C258.5,628.7 259.4,627.1 260.2,625.1 C260.9,623.1 262.4,621.9 262.4,619.1 C262.4,616.3 261.1,611.3 260.2,608.2 C259.3,605.1 256.7,603.4 256.9,600.6 C257.1,597.9 260.1,594.1 261.3,591.8 C262.5,589.4 263.1,588.1 264.0,586.3 C264.9,584.5 265.6,583.7 266.7,580.9 C267.7,578.2 269.5,573.5 270.0,569.9 C270.6,566.4 271.1,560.3 270.0,559.5 C269.0,558.6 265.9,563.0 263.8,564.7 C261.7,566.5 259.2,567.7 257.6,569.9Z" fill="#FFE8D8"/>
<path d="M281.5,589.6 C282.4,587.6 285.7,585.8 287.8,584.3 C289.8,582.8 291.9,581.9 294.0,580.8 C296.0,579.6 298.5,579.3 300.2,577.2 C301.8,575.1 302.2,570.4 303.7,568.3 C305.2,566.3 307.3,566.0 309.0,564.8 C310.8,563.6 312.1,562.6 314.4,561.2 C316.6,559.9 319.7,558.3 322.3,556.8 C325.0,555.3 327.8,553.3 330.3,552.4 C332.8,551.4 335.1,551.5 337.4,551.0 C339.8,550.6 342.4,550.9 344.5,549.7 C346.6,548.5 348.1,545.9 349.8,544.0 C351.6,542.0 353.1,539.4 355.2,538.2 C357.2,536.9 361.1,535.1 362.3,536.4 C363.4,537.7 362.3,542.9 362.3,546.2 C362.3,549.4 362.3,552.7 362.3,555.9 C362.3,559.2 362.3,562.4 362.3,565.7 C362.3,568.9 362.3,572.2 362.3,575.4 C362.3,578.7 363.7,583.6 362.3,585.2 C360.8,586.8 356.0,584.5 353.4,585.2 C350.7,585.9 348.4,587.4 346.3,589.6 C344.2,591.8 342.0,595.8 341.0,598.5 C339.9,601.2 340.4,603.2 340.1,605.6 C339.8,608.0 339.9,610.6 339.2,612.7 C338.5,614.8 336.8,616.2 335.6,618.0 C334.5,619.8 333.7,621.8 332.1,623.3 C330.5,624.8 328.0,625.7 325.9,626.9 C323.8,628.1 321.9,630.4 319.7,630.4 C317.5,630.4 315.0,628.1 312.6,626.9 C310.2,625.7 307.9,624.2 305.5,623.3 C303.1,622.4 300.8,622.1 298.4,621.6 C296.0,621.0 293.4,621.3 291.3,619.8 C289.2,618.3 287.2,615.3 286.0,612.7 C284.8,610.0 284.7,606.5 284.2,603.8 C283.7,601.2 283.3,599.1 282.9,596.7 C282.4,594.4 280.7,591.7 281.5,589.6Z" fill="#FFE8D8"/>
<path d="M289.5,637.5 C290.7,635.4 294.9,632.8 296.6,634.0 C298.4,635.2 299.9,641.1 300.2,644.6 C300.5,648.2 300.2,653.5 298.4,655.3 C296.6,657.0 291.0,656.7 289.5,655.3 C288.1,653.8 289.5,649.3 289.5,646.4 C289.5,643.4 288.3,639.6 289.5,637.5Z" fill="#FFE8D8"/>
<path d="M355.2,564.8 C356.2,563.8 361.1,562.9 362.3,563.9 C363.4,564.9 363.3,570.0 362.3,571.0 C361.2,572.0 357.2,571.2 356.0,570.1 C354.9,569.1 354.1,565.8 355.2,564.8Z" fill="#D8E8FF"/>
<path d="M294.9,602.0 C296.2,600.6 300.2,601.5 301.9,600.3 C303.7,599.1 304.3,596.7 305.5,594.9 C306.7,593.2 307.0,590.8 309.0,589.6 C311.1,588.4 315.7,589.2 317.9,587.9 C320.1,586.5 320.9,583.7 322.3,581.6 C323.8,579.6 324.6,576.2 326.8,575.4 C329.0,574.7 333.3,576.0 335.6,577.2 C338.0,578.4 339.5,580.8 341.0,582.5 C342.4,584.3 344.8,585.8 344.5,587.9 C344.2,589.9 340.2,592.6 339.2,594.9 C338.2,597.3 338.6,599.7 338.3,602.0 C338.0,604.4 338.5,606.2 337.4,609.1 C336.4,612.1 334.5,617.4 332.1,619.8 C329.7,622.1 325.7,623.0 323.2,623.3 C320.7,623.6 319.1,622.1 317.0,621.6 C315.0,621.0 312.9,620.5 310.8,619.8 C308.7,619.0 306.7,618.0 304.6,617.1 C302.5,616.2 300.2,615.8 298.4,614.5 C296.6,613.1 294.6,611.2 294.0,609.1 C293.4,607.1 293.5,603.5 294.9,602.0Z" fill="#FFCAB2"/>
<path d="M329.4,598.5 C330.0,596.4 332.8,595.8 333.9,596.7 C334.9,597.6 335.6,601.5 335.6,603.8 C335.6,606.2 334.8,610.0 333.9,610.9 C333.0,611.8 331.1,611.2 330.3,609.1 C329.6,607.1 328.8,600.6 329.4,598.5Z" fill="#FFA880"/>
<path d="M239.9,614.5 C241.1,612.7 245.5,611.8 247.0,612.7 C248.4,613.6 249.3,617.7 248.7,619.8 C248.1,621.8 244.9,624.5 243.4,625.1 C241.9,625.7 240.5,625.1 239.9,623.3 C239.3,621.6 238.7,616.2 239.9,614.5Z" fill="#B4CCFF"/>
<path d="M284.2,571.9 C284.8,570.6 288.3,570.1 289.5,571.0 C290.7,571.9 291.9,575.9 291.3,577.2 C290.7,578.5 287.2,579.9 286.0,579.0 C284.8,578.1 283.6,573.2 284.2,571.9Z" fill="#B4CCFF"/>
<path d="M298.4,555.9 C299.0,555.1 304.0,553.3 305.5,553.3 C307.0,553.3 307.9,555.1 307.3,555.9 C306.7,556.7 303.4,558.1 301.9,558.1 C300.5,558.1 297.8,556.7 298.4,555.9Z" fill="#B4CCFF"/>
<path d="M276.2,642.8 C276.8,641.2 281.1,640.2 282.4,641.1 C283.8,641.9 284.8,646.5 284.2,648.2 C283.6,649.8 280.2,651.7 278.9,650.8 C277.6,649.9 275.6,644.5 276.2,642.8Z" fill="#B4CCFF"/>
<path d="M271.8,607.4 C272.5,606.6 275.0,607.7 277.1,609.1 C279.2,610.6 282.4,613.6 284.2,616.2 C286.0,618.9 287.5,622.7 287.8,625.1 C288.1,627.5 287.5,630.1 286.0,630.4 C284.5,630.7 281.0,628.6 278.9,626.9 C276.8,625.1 274.6,622.0 273.6,619.8 C272.5,617.6 273.0,615.6 272.7,613.6 C272.4,611.5 271.1,608.1 271.8,607.4Z" fill="#B4CCFF"/>
<path d="M267.4,625.1 C268.2,623.9 272.4,623.3 273.6,624.2 C274.8,625.1 275.3,629.2 274.5,630.4 C273.6,631.6 269.4,632.2 268.2,631.3 C267.1,630.4 266.5,626.3 267.4,625.1Z" fill="#FFE8D8"/>
<path d="M359.2,545.3 C361.0,544.4 366.6,547.6 369.9,548.8 C373.1,550.0 377.1,552.8 378.7,552.4 C380.4,551.9 379.3,548.2 379.6,546.2 C379.9,544.1 378.9,541.1 380.5,540.0 C382.1,538.8 386.7,539.2 389.4,539.1 C392.0,539.0 394.1,539.4 396.5,539.5 C398.8,539.7 400.9,539.3 403.6,540.0 C406.2,540.6 411.3,542.0 412.4,543.5 C413.6,545.0 412.1,547.8 410.7,548.8 C409.2,549.9 405.9,549.4 403.6,549.7 C401.2,550.0 398.2,549.9 396.5,550.6 C394.7,551.3 392.9,552.7 392.9,554.2 C392.9,555.6 394.7,558.4 396.5,559.5 C398.2,560.5 401.2,560.1 403.6,560.4 C405.9,560.7 409.2,559.9 410.7,561.2 C412.1,562.6 413.3,566.6 412.4,568.3 C411.5,570.1 408.0,571.6 405.3,571.9 C402.7,572.2 399.4,570.7 396.5,570.1 C393.5,569.5 390.4,568.9 387.6,568.3 C384.8,567.8 382.3,567.2 379.6,566.6 C377.0,566.0 374.0,565.2 371.6,564.8 C369.3,564.4 367.5,564.2 365.4,563.9 C363.4,563.6 360.3,564.6 359.2,563.0 C358.2,561.4 359.2,557.1 359.2,554.2 C359.2,551.2 357.5,546.2 359.2,545.3Z" fill="#FFE8D8"/>
<path d="M419.5,555.0 C419.8,553.0 421.0,549.6 423.1,548.8 C425.1,548.1 429.3,549.4 431.9,550.6 C434.6,551.8 437.6,554.0 439.0,555.9 C440.5,557.8 441.4,560.4 440.8,562.1 C440.2,563.9 437.9,566.1 435.5,566.6 C433.1,567.0 429.0,565.7 426.6,564.8 C424.3,563.9 422.5,562.9 421.3,561.2 C420.1,559.6 419.2,557.1 419.5,555.0Z" fill="#FFE8D8"/>
<path d="M359.2,570.1 C360.3,568.9 363.4,570.1 365.4,570.1 C367.5,570.1 369.3,569.7 371.6,570.1 C374.0,570.6 377.0,571.9 379.6,572.8 C382.3,573.7 384.9,574.5 387.6,575.4 C390.3,576.3 392.9,577.2 395.6,578.1 C398.2,579.0 400.5,579.4 403.6,580.8 C406.7,582.1 412.1,584.2 414.2,586.1 C416.3,588.0 416.9,591.0 416.0,592.3 C415.1,593.6 411.1,594.1 408.9,594.1 C406.7,594.0 404.8,592.6 402.7,591.8 C400.6,591.1 398.5,590.4 396.5,589.6 C394.4,588.8 392.3,587.9 390.3,587.0 C388.2,586.1 386.4,584.9 384.1,584.3 C381.7,583.7 378.7,583.7 376.1,583.4 C373.4,583.1 370.9,582.4 368.1,582.5 C365.3,582.7 360.7,585.2 359.2,584.3 C357.7,583.4 359.2,579.6 359.2,577.2 C359.2,574.8 358.2,571.3 359.2,570.1Z" fill="#FFE8D8"/>
<path d="M359.2,574.5 C360.9,574.0 365.7,574.8 369.0,575.0 C372.2,575.1 376.2,574.9 378.7,575.4 C381.2,576.0 384.6,577.4 384.1,578.1 C383.5,578.7 378.0,579.2 375.2,579.3 C372.4,579.4 369.9,578.9 367.2,578.7 C364.5,578.5 360.6,578.8 359.2,578.1 C357.9,577.4 357.6,575.1 359.2,574.5Z" fill="#FFCAB2"/>
<path d="M430.2,628.6 C430.5,627.0 433.6,624.5 435.5,624.2 C437.4,623.9 440.2,625.2 441.7,626.9 C443.2,628.5 443.0,631.9 444.4,634.0 C445.7,636.0 448.4,637.1 449.7,639.3 C451.0,641.5 451.5,644.6 452.3,647.3 C453.2,649.9 455.6,653.9 455.0,655.3 C454.4,656.6 450.9,655.3 448.8,655.3 C446.7,655.3 444.1,656.6 442.6,655.3 C441.1,653.9 440.8,649.9 439.9,647.3 C439.0,644.6 438.3,641.5 437.3,639.3 C436.2,637.1 434.9,635.7 433.7,634.0 C432.5,632.2 429.9,630.3 430.2,628.6Z" fill="#FFE8D8"/>
<path d="M433.7,628.6 C433.9,627.7 436.2,626.6 437.3,626.9 C438.3,627.2 440.1,629.5 439.9,630.4 C439.8,631.4 437.4,632.8 436.4,632.5 C435.3,632.3 433.6,629.6 433.7,628.6Z" fill="#FFA880"/>
<path d="M440.8,609.1 C441.1,608.0 443.5,606.8 444.4,607.4 C445.2,608.0 446.4,611.5 446.1,612.7 C445.8,613.9 443.5,615.0 442.6,614.5 C441.7,613.9 440.5,610.3 440.8,609.1Z" fill="#FFE8D8"/>
<path d="M429.3,591.4 C430.5,589.8 435.1,590.1 437.3,590.5 C439.5,590.9 440.8,592.6 442.6,593.6 C444.4,594.7 445.8,595.0 447.9,596.7 C450.0,598.4 453.5,601.2 455.0,603.8 C456.5,606.5 457.4,610.9 456.8,612.7 C456.2,614.5 453.2,615.6 451.5,614.5 C449.7,613.3 448.8,608.0 446.1,605.6 C443.5,603.2 438.2,601.2 435.5,600.3 C432.8,599.4 431.2,601.7 430.2,600.3 C429.1,598.8 428.1,593.0 429.3,591.4Z" fill="#B4CCFF"/>
<path d="M447.9,623.3 C448.6,621.4 451.8,619.5 453.2,620.7 C454.7,621.8 455.0,627.6 456.8,630.4 C458.6,633.2 462.5,634.9 463.9,637.5 C465.2,640.2 464.5,643.4 464.8,646.4 C465.1,649.3 466.8,653.8 465.6,655.3 C464.5,656.7 459.4,656.7 457.7,655.3 C456.0,653.8 456.2,649.3 455.4,646.4 C454.7,643.4 454.3,639.9 453.2,637.5 C452.1,635.2 449.7,634.6 448.8,632.2 C447.9,629.8 447.2,625.2 447.9,623.3Z" fill="#B4CCFF"/>
<path d="M229.2,652.2 C231.1,650.4 236.6,652.2 240.3,652.2 C244.0,652.2 247.7,652.2 251.4,652.2 C255.1,652.2 258.8,652.2 262.5,652.2 C266.2,652.2 269.9,652.2 273.6,652.2 C277.3,652.2 281.0,652.2 284.7,652.2 C288.3,652.2 292.0,652.2 295.7,652.2 C299.4,652.2 303.1,652.2 306.8,652.2 C310.5,652.2 314.2,652.2 317.9,652.2 C321.6,652.2 325.3,652.2 329.0,652.2 C332.7,652.2 336.4,652.2 340.1,652.2 C343.8,652.2 347.5,652.2 351.2,652.2 C354.9,652.2 360.4,650.4 362.3,652.2 C364.1,654.1 362.3,659.6 362.3,663.3 C362.3,667.0 362.3,670.7 362.3,674.4 C362.3,678.1 362.3,681.8 362.3,685.5 C362.3,689.2 362.3,692.9 362.3,696.6 C362.3,700.3 362.3,704.0 362.3,707.7 C362.3,711.3 362.3,715.0 362.3,718.7 C362.3,722.4 362.3,726.1 362.3,729.8 C362.3,733.5 362.3,737.2 362.3,740.9 C362.3,744.6 362.3,748.3 362.3,752.0 C362.3,755.7 362.3,759.4 362.3,763.1 C362.3,766.8 362.3,770.5 362.3,774.2 C362.3,777.9 364.1,783.4 362.3,785.3 C360.4,787.1 354.9,785.3 351.2,785.3 C347.5,785.3 343.8,785.3 340.1,785.3 C336.4,785.3 332.7,785.3 329.0,785.3 C325.3,785.3 321.6,785.3 317.9,785.3 C314.2,785.3 310.5,785.3 306.8,785.3 C303.1,785.3 299.4,785.3 295.7,785.3 C292.0,785.3 288.3,785.3 284.7,785.3 C281.0,785.3 277.3,785.3 273.6,785.3 C269.9,785.3 266.2,785.3 262.5,785.3 C258.8,785.3 255.1,785.3 251.4,785.3 C247.7,785.3 244.0,785.3 240.3,785.3 C236.6,785.3 231.1,787.1 229.2,785.3 C227.4,783.4 229.2,777.9 229.2,774.2 C229.2,770.5 229.2,766.8 229.2,763.1 C229.2,759.4 229.2,755.7 229.2,752.0 C229.2,748.3 229.2,744.6 229.2,740.9 C229.2,737.2 229.2,733.5 229.2,729.8 C229.2,726.1 229.2,722.4 229.2,718.7 C229.2,715.0 229.2,711.3 229.2,707.7 C229.2,704.0 229.2,700.3 229.2,696.6 C229.2,692.9 229.2,689.2 229.2,685.5 C229.2,681.8 229.2,678.1 229.2,674.4 C229.2,670.7 229.2,667.0 229.2,663.3 C229.2,659.6 227.4,654.1 229.2,652.2Z" fill="#FFE8D8"/>
<path d="M229.2,652.2 C231.0,650.3 236.3,652.2 239.9,652.2 C243.4,652.2 247.0,652.2 250.5,652.2 C254.1,652.2 257.6,652.2 261.2,652.2 C264.7,652.2 268.2,652.2 271.8,652.2 C275.3,652.2 278.9,652.2 282.4,652.2 C286.0,652.2 291.6,651.0 293.1,652.2 C294.6,653.4 291.5,656.5 291.3,659.3 C291.2,662.1 291.9,665.8 292.2,669.1 C292.5,672.3 294.4,677.8 293.1,678.8 C291.7,679.9 287.5,676.2 284.2,675.3 C281.0,674.4 276.5,675.3 273.6,673.5 C270.6,671.7 269.1,666.7 266.5,664.6 C263.8,662.6 259.7,661.1 257.6,661.1 C255.5,661.1 254.4,663.0 254.1,664.6 C253.8,666.3 255.2,668.8 255.8,670.8 C256.4,672.9 257.0,674.5 257.6,677.1 C258.2,679.6 260.1,684.4 259.4,685.9 C258.6,687.4 255.2,685.9 253.2,685.9 C251.1,685.9 248.6,684.7 247.0,685.9 C245.3,687.1 242.5,690.7 243.4,693.0 C244.3,695.4 251.0,697.5 252.3,700.1 C253.6,702.8 253.4,707.5 251.4,709.0 C249.4,710.5 244.0,709.0 240.3,709.0 C236.6,709.0 231.1,710.9 229.2,709.0 C227.4,707.1 229.2,701.4 229.2,697.6 C229.2,693.8 229.2,690.1 229.2,686.3 C229.2,682.5 229.2,678.7 229.2,674.9 C229.2,671.1 229.2,667.4 229.2,663.6 C229.2,659.8 227.5,654.1 229.2,652.2Z" fill="#D8E8FF"/>
<path d="M289.5,717.0 C290.6,715.7 295.7,714.5 298.4,715.2 C301.1,715.9 304.0,721.8 305.5,721.4 C307.0,721.0 307.3,715.2 307.3,712.5 C307.3,709.9 304.9,707.1 305.5,705.4 C306.1,703.8 308.7,702.2 310.8,702.8 C312.9,703.4 316.4,706.9 317.9,709.0 C319.4,711.1 319.1,713.1 319.7,715.2 C320.3,717.3 319.7,719.8 321.5,721.4 C323.2,723.0 327.1,724.9 330.3,724.9 C333.6,724.9 338.2,721.4 341.0,721.4 C343.8,721.4 345.1,723.8 347.2,724.9 C349.2,726.1 352.1,726.7 353.4,728.5 C354.7,730.3 355.5,732.9 355.2,735.6 C354.9,738.2 354.0,742.7 351.6,744.5 C349.2,746.2 343.9,745.8 341.0,746.2 C338.0,746.7 336.2,746.8 333.9,747.1 C331.5,747.4 329.0,747.6 326.8,748.0 C324.6,748.4 322.6,748.9 320.6,749.3 C318.5,749.8 316.4,750.7 314.4,750.7 C312.3,750.7 310.2,749.8 308.2,749.3 C306.1,748.9 303.6,750.0 301.9,748.0 C300.3,746.0 299.6,740.6 298.4,737.4 C297.2,734.1 295.9,730.9 294.9,728.5 C293.8,726.1 293.1,724.7 292.2,722.7 C291.3,720.8 288.5,718.2 289.5,717.0Z" fill="#D8E8FF"/>
<path d="M353.4,721.4 C354.7,719.3 360.8,718.0 362.3,719.6 C363.7,721.3 362.3,727.3 362.3,731.2 C362.3,735.0 363.4,740.8 362.3,742.7 C361.1,744.6 356.5,744.5 355.2,742.7 C353.8,740.9 354.6,735.6 354.3,732.0 C354.0,728.5 352.1,723.5 353.4,721.4Z" fill="#D8E8FF"/>
<path d="M292.2,695.7 C292.3,694.6 294.1,694.0 294.9,694.8 C295.7,695.6 297.1,699.3 297.0,700.5 C296.8,701.6 294.8,702.3 294.0,701.5 C293.2,700.7 292.0,696.8 292.2,695.7Z" fill="#D8E8FF"/>
<path d="M256.7,720.5 C257.3,719.0 259.7,717.7 261.2,718.7 C262.6,719.8 265.3,724.8 265.6,726.7 C265.9,728.6 264.3,730.1 262.9,730.3 C261.6,730.4 258.6,729.2 257.6,727.6 C256.6,726.0 256.1,722.0 256.7,720.5Z" fill="#FFCAB2"/>
<path d="M271.8,742.7 C272.4,741.2 276.8,740.0 278.9,740.9 C281.0,741.8 283.5,745.9 284.2,748.0 C284.9,750.1 284.8,753.0 283.3,753.3 C281.8,753.6 277.3,751.6 275.3,749.8 C273.4,748.0 271.2,744.2 271.8,742.7Z" fill="#FFCAB2"/>
<path d="M309.0,764.0 C310.2,761.9 315.0,758.9 317.9,758.6 C320.9,758.4 324.6,760.9 326.8,762.2 C329.0,763.5 329.7,765.2 331.2,766.6 C332.7,768.1 335.9,770.0 335.6,771.1 C335.4,772.1 331.5,772.2 329.4,772.8 C327.4,773.4 325.3,774.6 323.2,774.6 C321.2,774.6 319.1,773.4 317.0,772.8 C315.0,772.2 312.1,772.5 310.8,771.1 C309.5,769.6 307.9,766.0 309.0,764.0Z" fill="#FFCAB2"/>
<path d="M337.4,774.6 C336.9,773.8 341.0,772.2 342.7,771.1 C344.5,769.9 346.0,768.6 348.1,767.5 C350.1,766.5 352.8,765.7 355.2,764.9 C357.5,764.0 361.1,761.3 362.3,762.2 C363.4,763.1 362.3,767.5 362.3,770.2 C362.3,772.8 363.6,777.0 362.3,778.2 C360.9,779.3 356.7,777.4 354.0,777.0 C351.2,776.6 348.5,776.2 345.7,775.8 C342.9,775.4 337.9,775.4 337.4,774.6Z" fill="#FFCAB2"/>
<path d="M299.3,675.3 C299.5,673.4 302.5,672.5 303.7,673.5 C304.9,674.5 305.5,678.8 306.4,681.5 C307.3,684.2 308.3,687.0 309.0,689.5 C309.8,692.0 311.4,695.7 310.8,696.6 C310.2,697.5 306.9,696.7 305.5,694.8 C304.1,692.9 303.4,688.3 302.4,685.0 C301.4,681.8 299.1,677.2 299.3,675.3Z" fill="#FFCAB2"/>
<path d="M359.2,721.4 C360.3,720.2 363.4,721.4 365.4,721.4 C367.5,721.4 368.8,721.3 371.6,721.4 C374.5,721.5 379.3,722.2 382.3,722.3 C385.2,722.4 387.0,722.0 389.4,721.8 C391.7,721.7 393.8,721.6 396.5,721.4 C399.1,721.2 402.4,720.8 405.3,720.5 C408.3,720.2 411.3,721.0 414.2,719.6 C417.2,718.3 420.4,715.2 423.1,712.5 C425.7,709.9 428.1,706.6 430.2,703.7 C432.2,700.7 433.7,697.2 435.5,694.8 C437.3,692.4 439.0,691.0 440.8,689.5 C442.6,688.0 445.0,685.0 446.1,685.9 C447.3,686.8 448.4,692.4 447.9,694.8 C447.5,697.2 445.0,698.3 443.5,700.1 C442.0,701.9 440.1,703.1 439.0,705.4 C438.0,707.8 438.5,711.1 437.3,714.3 C436.1,717.6 433.9,722.6 431.9,724.9 C430.0,727.3 427.8,727.3 425.7,728.5 C423.7,729.7 421.9,731.3 419.5,732.0 C417.2,732.8 414.2,732.6 411.5,732.9 C408.9,733.2 406.2,733.5 403.6,733.8 C400.9,734.1 398.2,734.4 395.6,734.7 C392.9,735.0 390.3,735.3 387.6,735.6 C384.9,735.9 382.3,736.2 379.6,736.5 C377.0,736.8 374.0,737.4 371.6,737.4 C369.3,737.4 367.5,736.8 365.4,736.5 C363.4,736.2 360.3,736.9 359.2,735.6 C358.2,734.3 359.2,730.9 359.2,728.5 C359.2,726.1 358.2,722.6 359.2,721.4Z" fill="#FFE8D8"/>
<path d="M399.1,723.2 C399.8,721.5 403.6,722.6 405.8,722.3 C408.0,722.0 410.4,721.0 412.4,721.4 C414.4,721.8 417.2,723.5 417.8,724.9 C418.3,726.4 417.5,729.2 416.0,730.3 C414.5,731.3 411.3,730.9 408.9,731.2 C406.5,731.5 403.4,733.4 401.8,732.0 C400.2,730.7 398.5,724.8 399.1,723.2Z" fill="#FFCAB2"/>
<path d="M407.1,724.1 C408.0,723.0 412.7,721.8 414.2,722.3 C415.7,722.7 416.9,725.7 416.0,726.7 C415.1,727.8 410.4,728.9 408.9,728.5 C407.4,728.1 406.2,725.1 407.1,724.1Z" fill="#FFA880"/>
<path d="M385.8,727.6 C387.0,726.6 392.3,725.2 393.8,725.8 C395.3,726.4 395.9,730.1 394.7,731.2 C393.5,732.2 388.2,732.6 386.7,732.0 C385.2,731.5 384.6,728.6 385.8,727.6Z" fill="#FFCAB2"/>
<path d="M435.5,693.0 C436.1,691.8 439.0,690.7 439.9,691.2 C440.8,691.8 441.4,695.4 440.8,696.6 C440.2,697.8 437.3,698.9 436.4,698.3 C435.5,697.8 434.9,694.2 435.5,693.0Z" fill="#FFCAB2"/>
<path d="M426.6,742.7 C427.1,740.9 429.6,739.1 431.1,737.4 C432.5,735.6 434.2,734.7 435.5,732.0 C436.8,729.4 437.3,724.4 439.0,721.4 C440.8,718.4 443.8,716.7 446.1,714.3 C448.5,711.9 451.5,709.3 453.2,707.2 C455.0,705.1 455.6,703.7 456.8,701.9 C458.0,700.1 459.1,698.6 460.3,696.6 C461.5,694.5 462.8,691.7 463.9,689.5 C464.9,687.3 465.6,685.3 466.5,683.3 C467.4,681.2 467.3,679.3 469.2,677.1 C471.1,674.8 475.4,671.4 478.1,670.0 C480.7,668.5 483.1,668.2 485.2,668.2 C487.2,668.2 490.0,668.0 490.5,670.0 C490.9,671.9 488.7,676.5 487.8,679.7 C486.9,683.0 486.3,686.4 485.2,689.5 C484.0,692.6 482.2,695.4 480.7,698.3 C479.2,701.3 477.8,704.5 476.3,707.2 C474.8,709.9 473.3,711.9 471.9,714.3 C470.4,716.7 469.2,719.0 467.4,721.4 C465.6,723.8 463.3,726.1 461.2,728.5 C459.1,730.9 457.2,733.2 455.0,735.6 C452.8,738.0 450.3,740.3 447.9,742.7 C445.5,745.0 443.0,748.7 440.8,749.8 C438.6,750.8 436.7,749.2 434.6,748.9 C432.5,748.6 429.7,749.0 428.4,748.0 C427.1,747.0 426.2,744.5 426.6,742.7Z" fill="#FFE8D8"/>
<path d="M474.5,678.8 C475.4,676.8 481.6,675.6 483.4,677.1 C485.2,678.5 486.0,685.6 485.2,687.7 C484.3,689.8 479.8,691.0 478.1,689.5 C476.3,688.0 473.6,680.9 474.5,678.8Z" fill="#D8E8FF"/>
<path d="M445.2,652.2 C446.8,650.6 453.2,651.2 455.0,652.2 C456.9,653.3 455.9,656.4 456.3,658.4 C456.8,660.5 457.8,662.6 457.7,664.6 C457.5,666.7 456.2,668.8 455.4,670.8 C454.7,672.9 454.2,675.4 453.2,677.1 C452.3,678.7 450.9,681.5 449.7,680.6 C448.5,679.7 446.8,674.8 446.1,671.7 C445.5,668.6 445.8,665.2 445.7,662.0 C445.5,658.7 443.7,653.9 445.2,652.2Z" fill="#FFE8D8"/>
<path d="M459.4,652.2 C461.0,650.5 467.5,651.2 469.2,652.2 C470.9,653.3 469.5,656.4 469.6,658.4 C469.8,660.5 470.5,662.3 470.1,664.6 C469.7,667.0 469.0,671.1 467.4,672.6 C465.8,674.1 461.6,675.1 460.3,673.5 C459.1,671.9 460.0,666.4 459.9,662.9 C459.7,659.3 457.9,654.0 459.4,652.2Z" fill="#B4CCFF"/>
<path d="M359.2,744.5 C360.6,743.2 364.5,746.2 367.2,747.1 C369.9,748.0 372.8,749.0 375.2,749.8 C377.6,750.5 379.3,751.0 381.4,751.6 C383.5,752.1 385.7,751.3 387.6,753.3 C389.5,755.4 390.4,761.9 392.9,764.0 C395.4,766.0 399.4,765.2 402.7,765.7 C405.9,766.3 409.8,767.5 412.4,767.5 C415.1,767.5 416.6,766.3 418.6,765.7 C420.7,765.2 424.7,762.5 424.9,764.0 C425.0,765.4 421.3,771.1 419.5,774.6 C417.8,778.2 416.9,783.5 414.2,785.3 C411.5,787.0 406.9,785.3 403.2,785.3 C399.5,785.3 395.9,785.3 392.2,785.3 C388.6,785.3 384.9,785.3 381.2,785.3 C377.6,785.3 373.9,785.3 370.2,785.3 C366.6,785.3 361.1,787.0 359.2,785.3 C357.4,783.6 359.2,778.5 359.2,775.1 C359.2,771.7 359.2,768.3 359.2,764.9 C359.2,761.5 359.2,758.1 359.2,754.7 C359.2,751.3 357.9,745.7 359.2,744.5Z" fill="#FFE8D8"/>
<path d="M370.8,771.1 C371.4,769.1 374.0,767.8 375.6,766.2 C377.3,764.6 378.5,761.1 380.5,761.3 C382.5,761.5 386.1,765.0 387.6,767.5 C389.1,770.0 390.6,774.8 389.4,776.4 C388.2,778.0 383.5,777.0 380.5,777.3 C377.6,777.6 373.3,779.2 371.6,778.2 C370.0,777.1 370.1,773.1 370.8,771.1Z" fill="#FFCAB2"/>
<path d="M285.0,690.0 C286.8,688.2 292.3,690.0 296.0,690.0 C299.7,690.0 303.3,690.0 307.0,690.0 C310.7,690.0 314.3,690.0 318.0,690.0 C321.7,690.0 325.3,690.0 329.0,690.0 C332.7,690.0 336.4,689.4 340.0,690.0 C343.6,690.6 347.1,692.2 350.7,693.3 C354.2,694.4 357.8,695.6 361.3,696.7 C364.9,697.8 370.0,697.7 372.0,700.0 C374.0,702.3 372.9,707.1 373.3,710.7 C373.8,714.2 374.2,717.8 374.7,721.3 C375.1,724.9 376.9,729.9 376.0,732.0 C375.1,734.1 371.7,733.4 369.5,734.1 C367.3,734.9 366.0,735.6 363.0,736.3 C360.0,737.0 354.2,739.5 351.6,738.2 C349.1,736.9 349.5,730.8 347.7,728.6 C345.9,726.4 343.3,726.1 341.0,724.8 C338.8,723.5 336.8,721.3 334.4,721.0 C332.0,720.7 329.3,722.3 326.8,722.9 C324.2,723.5 322.0,724.6 319.1,724.8 C316.2,725.0 312.7,724.2 309.6,723.8 C306.4,723.5 302.8,723.1 300.0,722.9 C297.2,722.7 295.0,722.6 292.5,722.5 C290.0,722.3 286.2,723.9 285.0,722.0 C283.8,720.1 285.0,714.9 285.0,711.3 C285.0,707.8 285.0,704.2 285.0,700.7 C285.0,697.1 283.2,691.8 285.0,690.0Z" fill="#FFE8D8"/>
<path d="M285.0,712.0 C286.2,711.1 290.0,715.6 292.5,717.5 C295.0,719.3 297.2,721.8 300.0,722.9 C302.8,724.0 306.4,723.5 309.6,723.8 C312.7,724.2 316.2,725.0 319.1,724.8 C322.0,724.6 324.2,723.5 326.8,722.9 C329.3,722.3 332.0,720.7 334.4,721.0 C336.8,721.3 338.8,723.5 341.0,724.8 C343.3,726.1 345.9,726.4 347.7,728.6 C349.5,730.8 349.1,736.9 351.6,738.2 C354.2,739.5 360.0,736.9 363.0,736.3 C366.0,735.7 367.5,735.0 369.7,734.4 C371.9,733.8 374.0,733.1 376.4,732.5 C378.8,731.9 381.5,731.2 384.0,730.5 C386.6,729.9 388.5,728.9 391.7,728.6 C394.9,728.3 399.3,728.6 403.1,728.6 C407.0,728.6 411.1,729.1 414.6,728.6 C418.1,728.1 421.0,726.7 424.1,725.8 C427.3,724.8 431.2,723.9 433.7,722.9 C436.2,721.9 437.5,720.9 439.4,720.0 C441.2,719.0 444.1,716.4 445.0,717.0 C445.9,717.6 445.0,721.5 445.0,723.8 C445.0,726.1 446.1,728.8 445.0,730.6 C443.9,732.4 440.6,733.1 438.4,734.4 C436.2,735.7 433.2,735.7 431.8,738.2 C430.4,740.8 431.5,746.7 429.9,749.7 C428.3,752.7 424.8,754.1 422.2,756.4 C419.7,758.6 417.2,761.1 414.6,763.0 C412.1,764.9 409.5,766.2 407.0,767.8 C404.4,769.4 401.2,772.6 399.3,772.6 C397.4,772.6 396.8,769.4 395.5,767.8 C394.2,766.2 392.6,764.8 391.7,763.0 C390.8,761.2 390.4,759.2 389.8,757.3 C389.2,755.4 389.2,752.9 387.9,751.6 C386.6,750.3 384.1,750.3 382.1,749.7 C380.2,749.0 378.6,748.2 376.4,747.7 C374.2,747.2 371.3,747.1 368.8,746.8 C366.2,746.4 363.3,746.4 361.1,745.8 C358.9,745.2 357.8,743.2 355.4,743.0 C353.0,742.8 349.7,743.9 346.8,744.4 C343.9,744.9 341.2,745.4 338.2,745.8 C335.2,746.2 331.8,746.4 328.6,746.8 C325.5,747.1 322.3,747.4 319.1,747.7 C315.9,748.0 312.7,748.4 309.6,748.7 C306.4,749.0 302.8,749.9 300.0,749.7 C297.2,749.5 295.0,748.1 292.5,747.4 C290.0,746.6 286.2,747.2 285.0,745.0 C283.8,742.8 285.0,737.7 285.0,734.0 C285.0,730.3 285.0,726.7 285.0,723.0 C285.0,719.3 283.8,712.9 285.0,712.0Z" fill="#D8E8FF"/>
<path d="M305.7,703.8 C307.0,703.2 309.5,705.1 311.4,705.7 C313.4,706.3 316.1,706.0 317.2,707.6 C318.3,709.2 317.8,712.7 318.1,715.2 C318.5,717.8 320.9,721.3 319.1,722.9 C317.3,724.5 310.5,726.1 307.6,724.8 C304.7,723.5 302.5,717.8 301.9,715.3 C301.3,712.8 303.2,711.5 303.8,709.5 C304.4,707.6 304.4,704.4 305.7,703.8Z" fill="#D8E8FF"/>
<path d="M338.0,699.0 C338.5,697.7 339.3,697.8 340.8,697.1 C342.3,696.4 344.9,695.0 347.1,694.7 C349.3,694.4 351.6,695.0 353.9,695.1 C356.1,695.2 359.4,694.8 360.6,695.5 C361.8,696.2 359.6,699.0 361.0,699.5 C362.4,700.0 367.8,698.1 369.3,698.7 C370.8,699.4 370.2,701.0 370.1,703.4 C370.0,705.8 369.2,709.9 368.5,713.0 C367.8,716.1 365.9,719.4 366.0,722.0 C366.1,724.6 368.0,726.3 369.0,728.5 C370.0,730.7 372.7,733.9 372.0,735.0 C371.3,736.1 366.3,736.6 365.0,735.0 C363.7,733.4 364.6,728.7 364.4,725.5 C364.2,722.4 365.2,717.9 363.8,716.1 C362.4,714.3 358.9,715.7 355.8,714.6 C352.8,713.5 348.5,711.4 345.5,709.8 C342.5,708.2 339.2,706.8 338.0,705.0 C336.8,703.2 337.5,700.3 338.0,699.0Z" fill="#FFCAB2"/>
<path d="M343.9,697.1 C344.8,696.2 347.8,695.0 348.7,695.5 C349.6,696.0 350.0,699.0 349.5,700.3 C349.0,701.6 346.6,703.3 345.5,703.4 C344.4,703.5 343.4,702.1 343.1,701.1 C342.8,700.1 343.0,698.0 343.9,697.1Z" fill="#FFA880"/>
<path d="M357.4,697.1 C357.7,695.9 359.1,699.1 361.0,699.5 C362.9,699.9 367.2,697.8 368.5,699.5 C369.8,701.2 369.3,707.3 368.5,709.8 C367.7,712.3 365.4,715.1 363.8,714.6 C362.2,714.1 360.1,709.5 359.0,706.6 C357.9,703.7 357.1,698.3 357.4,697.1Z" fill="#FFA880"/>
<path d="M361.0,699.9 C361.8,699.4 365.9,699.3 367.0,700.3 C368.1,701.3 368.1,704.4 367.7,705.8 C367.3,707.2 365.5,709.0 364.6,708.6 C363.7,708.2 362.8,704.9 362.2,703.4 C361.6,701.9 360.2,700.4 361.0,699.9Z" fill="#FF7A48"/>
<path d="M369.3,698.7 C369.7,697.0 372.1,695.5 373.3,696.3 C374.5,697.1 376.2,701.1 376.5,703.4 C376.8,705.6 374.6,707.1 374.9,709.8 C375.2,712.4 376.7,717.2 378.1,719.3 C379.6,721.4 384.4,722.0 383.6,722.5 C382.8,723.0 375.6,723.3 373.3,722.5 C371.1,721.7 370.5,720.4 370.1,717.7 C369.7,715.1 371.0,709.8 370.9,706.6 C370.8,703.4 368.9,700.4 369.3,698.7Z" fill="#D8E8FF"/>
<path d="M370.9,697.9 C371.4,697.2 373.2,696.2 374.1,697.1 C375.0,698.0 376.0,701.5 376.1,703.4 C376.2,705.2 375.6,707.8 374.9,708.2 C374.2,708.6 372.7,707.0 372.1,705.8 C371.5,704.6 371.5,702.4 371.3,701.1 C371.1,699.8 370.4,698.6 370.9,697.9Z" fill="#80A8FF"/>
<path d="M373.3,710.6 C373.6,709.0 374.9,708.3 375.7,709.8 C376.5,711.2 378.4,717.7 378.1,719.3 C377.8,720.9 374.9,720.8 374.1,719.3 C373.3,717.8 373.0,712.2 373.3,710.6Z" fill="#80A8FF"/>
<path d="M281.6,600.2 L282.2,607.3 L285.5,611.9 L297.1,618.4 L307.5,622.3 L315.3,626.1 L320.4,627.4 L325.6,626.1 L332.1,622.3 L336.0,617.1 L338.6,610.6 L338.6,608.0 L341.2,601.5 L345.1,596.3 L348.3,591.1 L350.3,588.6 L354.1,586.6 L359.3,585.3 L366.1,585.4 L371.0,584.4 L377.2,586.0 L383.3,587.8 L388.8,591.2 L395.6,592.1 L401.7,593.3 L403.6,591.5 L404.8,595.2 L406.0,598.9 L410.3,597.0 L415.2,597.0 L418.9,599.5 L422.0,603.5 L425.0,601.6 L429.3,601.9 L431.2,605.0 L430.6,609.9 L431.8,614.8 L433.6,621.0 L434.9,625.9 L432.4,628.3 L428.7,628.9 L426.9,631.4 L430.0,633.2 L431.8,636.9 L437.3,640.6 L441.0,644.3 L443.5,649.2 L444.7,655.3 L444.7,659.3 L444.1,665.3 L445.3,673.9 L442.2,678.8 L439.8,682.5 L441.0,687.4 L436.1,691.0 L432.4,696.0 L430.0,702.1 L425.1,705.8 L425.1,710.7 L420.1,714.4 L412.8,718.1 L407.9,719.9 L402.9,719.3 L398.0,720.5 L393.1,721.7 L388.2,723.0 L383.3,720.5 L380.6,721.2 L377.2,720.5 L373.5,719.6 L372.7,714.9 L375.1,710.1 L375.9,702.2 L373.5,697.4 L371.1,699.0 L366.4,699.0 L360.0,694.2 L352.1,692.6 L344.9,694.2 L344.1,695.8 L341.0,693.4 L338.6,691.0 L335.1,696.0 L330.1,694.7 L324.0,692.3 L321.5,684.9 L319.1,684.9 L312.9,686.1 L310.5,682.5 L312.9,677.5 L310.5,673.9 L308.0,670.2 L309.3,665.3 L304.4,664.0 L298.2,661.6 L300.7,659.1 L301.3,649.3 L302.3,644.3 L302.3,639.1 L298.0,637.3 L293.0,635.8 L291.0,631.3 L290.6,628.7 L284.2,623.5 L280.3,613.2 L280.5,604.3Z" fill="#FFFFFF"/>
<clipPath id="c3f"><path d="M281.6,600.2 L282.2,607.3 L285.5,611.9 L297.1,618.4 L307.5,622.3 L315.3,626.1 L320.4,627.4 L325.6,626.1 L332.1,622.3 L336.0,617.1 L338.6,610.6 L338.6,608.0 L341.2,601.5 L345.1,596.3 L348.3,591.1 L350.3,588.6 L354.1,586.6 L359.3,585.3 L366.1,585.4 L371.0,584.4 L377.2,586.0 L383.3,587.8 L388.8,591.2 L395.6,592.1 L401.7,593.3 L403.6,591.5 L404.8,595.2 L406.0,598.9 L410.3,597.0 L415.2,597.0 L418.9,599.5 L422.0,603.5 L425.0,601.6 L429.3,601.9 L431.2,605.0 L430.6,609.9 L431.8,614.8 L433.6,621.0 L434.9,625.9 L432.4,628.3 L428.7,628.9 L426.9,631.4 L430.0,633.2 L431.8,636.9 L437.3,640.6 L441.0,644.3 L443.5,649.2 L444.7,655.3 L444.7,659.3 L444.1,665.3 L445.3,673.9 L442.2,678.8 L439.8,682.5 L441.0,687.4 L436.1,691.0 L432.4,696.0 L430.0,702.1 L425.1,705.8 L425.1,710.7 L420.1,714.4 L412.8,718.1 L407.9,719.9 L402.9,719.3 L398.0,720.5 L393.1,721.7 L388.2,723.0 L383.3,720.5 L380.6,721.2 L377.2,720.5 L373.5,719.6 L372.7,714.9 L375.1,710.1 L375.9,702.2 L373.5,697.4 L371.1,699.0 L366.4,699.0 L360.0,694.2 L352.1,692.6 L344.9,694.2 L344.1,695.8 L341.0,693.4 L338.6,691.0 L335.1,696.0 L330.1,694.7 L324.0,692.3 L321.5,684.9 L319.1,684.9 L312.9,686.1 L310.5,682.5 L312.9,677.5 L310.5,673.9 L308.0,670.2 L309.3,665.3 L304.4,664.0 L298.2,661.6 L300.7,659.1 L301.3,649.3 L302.3,644.3 L302.3,639.1 L298.0,637.3 L293.0,635.8 L291.0,631.3 L290.6,628.7 L284.2,623.5 L280.3,613.2 L280.5,604.3Z"/></clipPath>
<path d="M281.6,600.2 L282.2,607.3 L284.2,614.5 L286.8,617.1 L288.0,621.0 L294.5,620.3 L301.0,622.3 L307.5,624.2 L312.7,627.4 L316.6,631.3 L319.2,635.9 L321.7,631.3 L326.9,628.1 L333.4,625.5 L336.6,622.3 L337.9,615.8 L338.6,608.0 L341.2,601.5 L345.1,596.3 L348.3,591.1 L350.3,588.6 L354.1,586.6 L359.3,585.3 L366.1,585.4 L371.0,584.4 L377.2,586.0 L383.3,587.8 L388.8,591.2 L395.6,592.1 L401.7,593.3 L403.6,591.5 L404.8,595.2 L406.0,598.9 L410.3,597.0 L415.2,597.0 L418.9,599.5 L422.0,603.5 L425.0,601.6 L429.3,601.9 L431.2,605.0 L430.6,609.9 L431.8,614.8 L433.6,621.0 L434.9,625.9 L432.4,628.3 L428.7,628.9 L426.9,631.4 L430.0,633.2 L431.8,636.9 L437.3,640.6 L441.0,644.3 L443.5,649.2 L444.7,655.3 L444.7,659.3 L444.1,665.3 L445.3,673.9 L442.2,678.8 L439.8,682.5 L441.0,687.4 L436.1,691.0 L432.4,696.0 L430.0,702.1 L425.1,705.8 L425.1,710.7 L420.1,714.4 L412.8,718.1 L407.9,719.9 L402.9,719.3 L398.0,720.5 L393.1,721.7 L388.2,723.0 L383.3,720.5 L380.6,721.2 L377.2,720.5 L373.5,719.6 L372.7,714.9 L375.1,710.1 L375.9,702.2 L371.9,694.2 L374.3,691.0 L372.7,685.5 L367.9,679.9 L362.4,676.8 L356.8,671.2 L352.1,668.0 L351.3,670.4 L348.9,679.9 L343.3,680.7 L342.9,683.1 L344.9,691.0 L344.1,695.8 L341.0,693.4 L338.6,691.0 L335.1,696.0 L330.1,694.7 L324.0,692.3 L321.5,684.9 L319.1,684.9 L312.9,686.1 L310.5,682.5 L312.9,677.5 L310.5,673.9 L308.0,670.2 L309.3,665.3 L304.4,664.0 L298.2,661.6 L300.7,659.1 L301.3,649.3 L302.3,644.3 L302.3,639.1 L298.0,637.3 L293.0,635.8 L291.0,631.3 L290.6,628.7 L284.2,623.5 L280.3,613.2 L280.5,604.3Z" fill="none" stroke="#000" stroke-width="1.1" stroke-linejoin="round"/>
</g>
<circle cx="361.5" cy="654.3" r="127" fill="none" stroke="#333" stroke-width="1"/>
<path d="M160.6,220.7 L167.1,219.4 L173.6,220.1 L175.5,223.3 L174.9,228.5 L171.0,229.8 L167.1,228.5 L168.4,224.6 L172.3,223.3" fill="none" stroke="#000" stroke-width="1" stroke-linejoin="round"/>
<circle cx="163.2" cy="226.0" r="1.1" fill="none" stroke="#000" stroke-width="0.8"/>
<ellipse cx="156.2" cy="171.3" rx="1.6" ry="1.0" fill="#000"/>
<ellipse cx="146.2" cy="194.2" rx="0.8" ry="3.2" fill="#000"/>
<path d="M419.4,220.7 L425.9,219.4 L432.4,220.1 L434.3,223.3 L433.7,228.5 L429.8,229.8 L425.9,228.5 L427.2,224.6 L431.1,223.3" fill="none" stroke="#000" stroke-width="1" stroke-linejoin="round"/>
<circle cx="422.0" cy="226.0" r="1.1" fill="none" stroke="#000" stroke-width="0.8"/>
<ellipse cx="415.0" cy="171.3" rx="1.6" ry="1.0" fill="#000"/>
<ellipse cx="405.0" cy="194.2" rx="0.8" ry="3.2" fill="#000"/>
<path d="M290.6,630.0 L297.1,628.7 L303.6,629.4 L305.5,632.6 L304.9,637.8 L301.0,639.1 L297.1,637.8 L298.4,633.9 L302.3,632.6" fill="none" stroke="#000" stroke-width="1" stroke-linejoin="round"/>
<circle cx="293.2" cy="635.3" r="1.1" fill="none" stroke="#000" stroke-width="0.8"/>
<ellipse cx="286.2" cy="580.6" rx="1.6" ry="1.0" fill="#000"/>
<ellipse cx="276.2" cy="603.5" rx="0.8" ry="3.2" fill="#000"/>
<text x="231.5" y="399" font-size="10" text-anchor="middle">MEAN=   2.29  Min= -14.94  Max=  59.27</text>
<text x="490.3" y="399" font-size="10" text-anchor="middle">MEAN=   5.11  Min=  -5.58  Max=  41.33</text>
<rect x="108.00" y="408" width="15.45" height="12.5" fill="#000090" stroke="#222" stroke-width="0.8"/>
<rect x="123.45" y="408" width="15.45" height="12.5" fill="#0018C0" stroke="#222" stroke-width="0.8"/>
<rect x="138.90" y="408" width="15.45" height="12.5" fill="#0032E6" stroke="#222" stroke-width="0.8"/>
<rect x="154.35" y="408" width="15.45" height="12.5" fill="#1E50FF" stroke="#222" stroke-width="0.8"/>
<rect x="169.80" y="408" width="15.45" height="12.5" fill="#4A7DFF" stroke="#222" stroke-width="0.8"/>
<rect x="185.25" y="408" width="15.45" height="12.5" fill="#80A8FF" stroke="#222" stroke-width="0.8"/>
<rect x="200.70" y="408" width="15.45" height="12.5" fill="#B4CCFF" stroke="#222" stroke-width="0.8"/>
<rect x="216.15" y="408" width="15.45" height="12.5" fill="#D8E8FF" stroke="#222" stroke-width="0.8"/>
<rect x="231.60" y="408" width="15.45" height="12.5" fill="#FFE8D8" stroke="#222" stroke-width="0.8"/>
<rect x="247.05" y="408" width="15.45" height="12.5" fill="#FFCAB2" stroke="#222" stroke-width="0.8"/>
<rect x="262.50" y="408" width="15.45" height="12.5" fill="#FFA880" stroke="#222" stroke-width="0.8"/>
<rect x="277.95" y="408" width="15.45" height="12.5" fill="#FF7A48" stroke="#222" stroke-width="0.8"/>
<rect x="293.40" y="408" width="15.45" height="12.5" fill="#FF5020" stroke="#222" stroke-width="0.8"/>
<rect x="308.85" y="408" width="15.45" height="12.5" fill="#E63200" stroke="#222" stroke-width="0.8"/>
<rect x="324.30" y="408" width="15.45" height="12.5" fill="#B82000" stroke="#222" stroke-width="0.8"/>
<rect x="339.75" y="408" width="15.45" height="12.5" fill="#920000" stroke="#222" stroke-width="0.8"/>
<text x="123.45" y="435.2" font-size="10" text-anchor="middle">-100</text>
<text x="154.35" y="435.2" font-size="10" text-anchor="middle">-50</text>
<text x="185.25" y="435.2" font-size="10" text-anchor="middle">-20</text>
<text x="216.15" y="435.2" font-size="10" text-anchor="middle">-5</text>
<text x="247.05" y="435.2" font-size="10" text-anchor="middle">5</text>
<text x="277.95" y="435.2" font-size="10" text-anchor="middle">20</text>
<text x="308.85" y="435.2" font-size="10" text-anchor="middle">50</text>
<text x="339.75" y="435.2" font-size="10" text-anchor="middle">100</text>
<rect x="366.80" y="408" width="15.42" height="12.5" fill="#000090" stroke="#222" stroke-width="0.8"/>
<rect x="382.22" y="408" width="15.42" height="12.5" fill="#0018C0" stroke="#222" stroke-width="0.8"/>
<rect x="397.64" y="408" width="15.42" height="12.5" fill="#0032E6" stroke="#222" stroke-width="0.8"/>
<rect x="413.06" y="408" width="15.42" height="12.5" fill="#1E50FF" stroke="#222" stroke-width="0.8"/>
<rect x="428.48" y="408" width="15.42" height="12.5" fill="#4A7DFF" stroke="#222" stroke-width="0.8"/>
<rect x="443.89" y="408" width="15.42" height="12.5" fill="#80A8FF" stroke="#222" stroke-width="0.8"/>
<rect x="459.31" y="408" width="15.42" height="12.5" fill="#B4CCFF" stroke="#222" stroke-width="0.8"/>
<rect x="474.73" y="408" width="15.42" height="12.5" fill="#D8E8FF" stroke="#222" stroke-width="0.8"/>
<rect x="490.15" y="408" width="15.42" height="12.5" fill="#FFE8D8" stroke="#222" stroke-width="0.8"/>
<rect x="505.57" y="408" width="15.42" height="12.5" fill="#FFCAB2" stroke="#222" stroke-width="0.8"/>
<rect x="520.99" y="408" width="15.42" height="12.5" fill="#FFA880" stroke="#222" stroke-width="0.8"/>
<rect x="536.41" y="408" width="15.42" height="12.5" fill="#FF7A48" stroke="#222" stroke-width="0.8"/>
<rect x="551.83" y="408" width="15.42" height="12.5" fill="#FF5020" stroke="#222" stroke-width="0.8"/>
<rect x="567.24" y="408" width="15.42" height="12.5" fill="#E63200" stroke="#222" stroke-width="0.8"/>
<rect x="582.66" y="408" width="15.42" height="12.5" fill="#B82000" stroke="#222" stroke-width="0.8"/>
<rect x="598.08" y="408" width="15.42" height="12.5" fill="#920000" stroke="#222" stroke-width="0.8"/>
<text x="382.22" y="435.2" font-size="10" text-anchor="middle">-100</text>
<text x="413.06" y="435.2" font-size="10" text-anchor="middle">-50</text>
<text x="443.89" y="435.2" font-size="10" text-anchor="middle">-20</text>
<text x="474.73" y="435.2" font-size="10" text-anchor="middle">-5</text>
<text x="505.57" y="435.2" font-size="10" text-anchor="middle">5</text>
<text x="536.41" y="435.2" font-size="10" text-anchor="middle">20</text>
<text x="567.24" y="435.2" font-size="10" text-anchor="middle">50</text>
<text x="598.08" y="435.2" font-size="10" text-anchor="middle">100</text>
<text x="361" y="472" font-size="14" font-weight="bold" text-anchor="middle">f1850c5_m1a - LARGE-YEAGER</text>
<text x="233.5" y="512.3" font-size="12.25">Surf sensible heat</text>
<text x="484" y="513" font-size="12.25" text-anchor="end">W/m</text><text x="484" y="507" font-size="7.5">2</text>
<text x="502.5" y="552.6" font-size="10">MIN = -33.87 MAX =  35.38</text>
<rect x="541.5" y="575.20" width="21.899999999999977" height="12.71" fill="#920000" stroke="#222" stroke-width="0.8"/>
<rect x="541.5" y="587.91" width="21.899999999999977" height="12.71" fill="#B82000" stroke="#222" stroke-width="0.8"/>
<rect x="541.5" y="600.62" width="21.899999999999977" height="12.71" fill="#E63200" stroke="#222" stroke-width="0.8"/>
<rect x="541.5" y="613.34" width="21.899999999999977" height="12.71" fill="#FF5020" stroke="#222" stroke-width="0.8"/>
<rect x="541.5" y="626.05" width="21.899999999999977" height="12.71" fill="#FF7A48" stroke="#222" stroke-width="0.8"/>
<rect x="541.5" y="638.76" width="21.899999999999977" height="12.71" fill="#FFA880" stroke="#222" stroke-width="0.8"/>
<rect x="541.5" y="651.48" width="21.899999999999977" height="12.71" fill="#FFCAB2" stroke="#222" stroke-width="0.8"/>
<rect x="541.5" y="664.19" width="21.899999999999977" height="12.71" fill="#FFE8D8" stroke="#222" stroke-width="0.8"/>
<rect x="541.5" y="676.90" width="21.899999999999977" height="12.71" fill="#D8E8FF" stroke="#222" stroke-width="0.8"/>
<rect x="541.5" y="689.61" width="21.899999999999977" height="12.71" fill="#B4CCFF" stroke="#222" stroke-width="0.8"/>
<rect x="541.5" y="702.33" width="21.899999999999977" height="12.71" fill="#80A8FF" stroke="#222" stroke-width="0.8"/>
<rect x="541.5" y="715.04" width="21.899999999999977" height="12.71" fill="#4A7DFF" stroke="#222" stroke-width="0.8"/>
<rect x="541.5" y="727.75" width="21.899999999999977" height="12.71" fill="#1E50FF" stroke="#222" stroke-width="0.8"/>
<rect x="541.5" y="740.46" width="21.899999999999977" height="12.71" fill="#0032E6" stroke="#222" stroke-width="0.8"/>
<rect x="541.5" y="753.17" width="21.899999999999977" height="12.71" fill="#0018C0" stroke="#222" stroke-width="0.8"/>
<rect x="541.5" y="765.89" width="21.899999999999977" height="12.71" fill="#000090" stroke="#222" stroke-width="0.8"/>
<text x="576.8" y="591.21" font-size="9.3" text-anchor="middle">100</text>
<text x="576.8" y="603.92" font-size="9.3" text-anchor="middle">80</text>
<text x="576.8" y="616.64" font-size="9.3" text-anchor="middle">50</text>
<text x="576.8" y="629.35" font-size="9.3" text-anchor="middle">30</text>
<text x="576.8" y="642.06" font-size="9.3" text-anchor="middle">20</text>
<text x="576.8" y="654.77" font-size="9.3" text-anchor="middle">10</text>
<text x="576.8" y="667.49" font-size="9.3" text-anchor="middle">5</text>
<text x="576.8" y="680.20" font-size="9.3" text-anchor="middle">0</text>
<text x="576.8" y="692.91" font-size="9.3" text-anchor="middle">-5</text>
<text x="576.8" y="705.62" font-size="9.3" text-anchor="middle">-10</text>
<text x="576.8" y="718.34" font-size="9.3" text-anchor="middle">-20</text>
<text x="576.8" y="731.05" font-size="9.3" text-anchor="middle">-30</text>
<text x="576.8" y="743.76" font-size="9.3" text-anchor="middle">-50</text>
<text x="576.8" y="756.47" font-size="9.3" text-anchor="middle">-80</text>
<text x="576.8" y="769.19" font-size="9.3" text-anchor="middle">-100</text>
</svg>
</body></html>
